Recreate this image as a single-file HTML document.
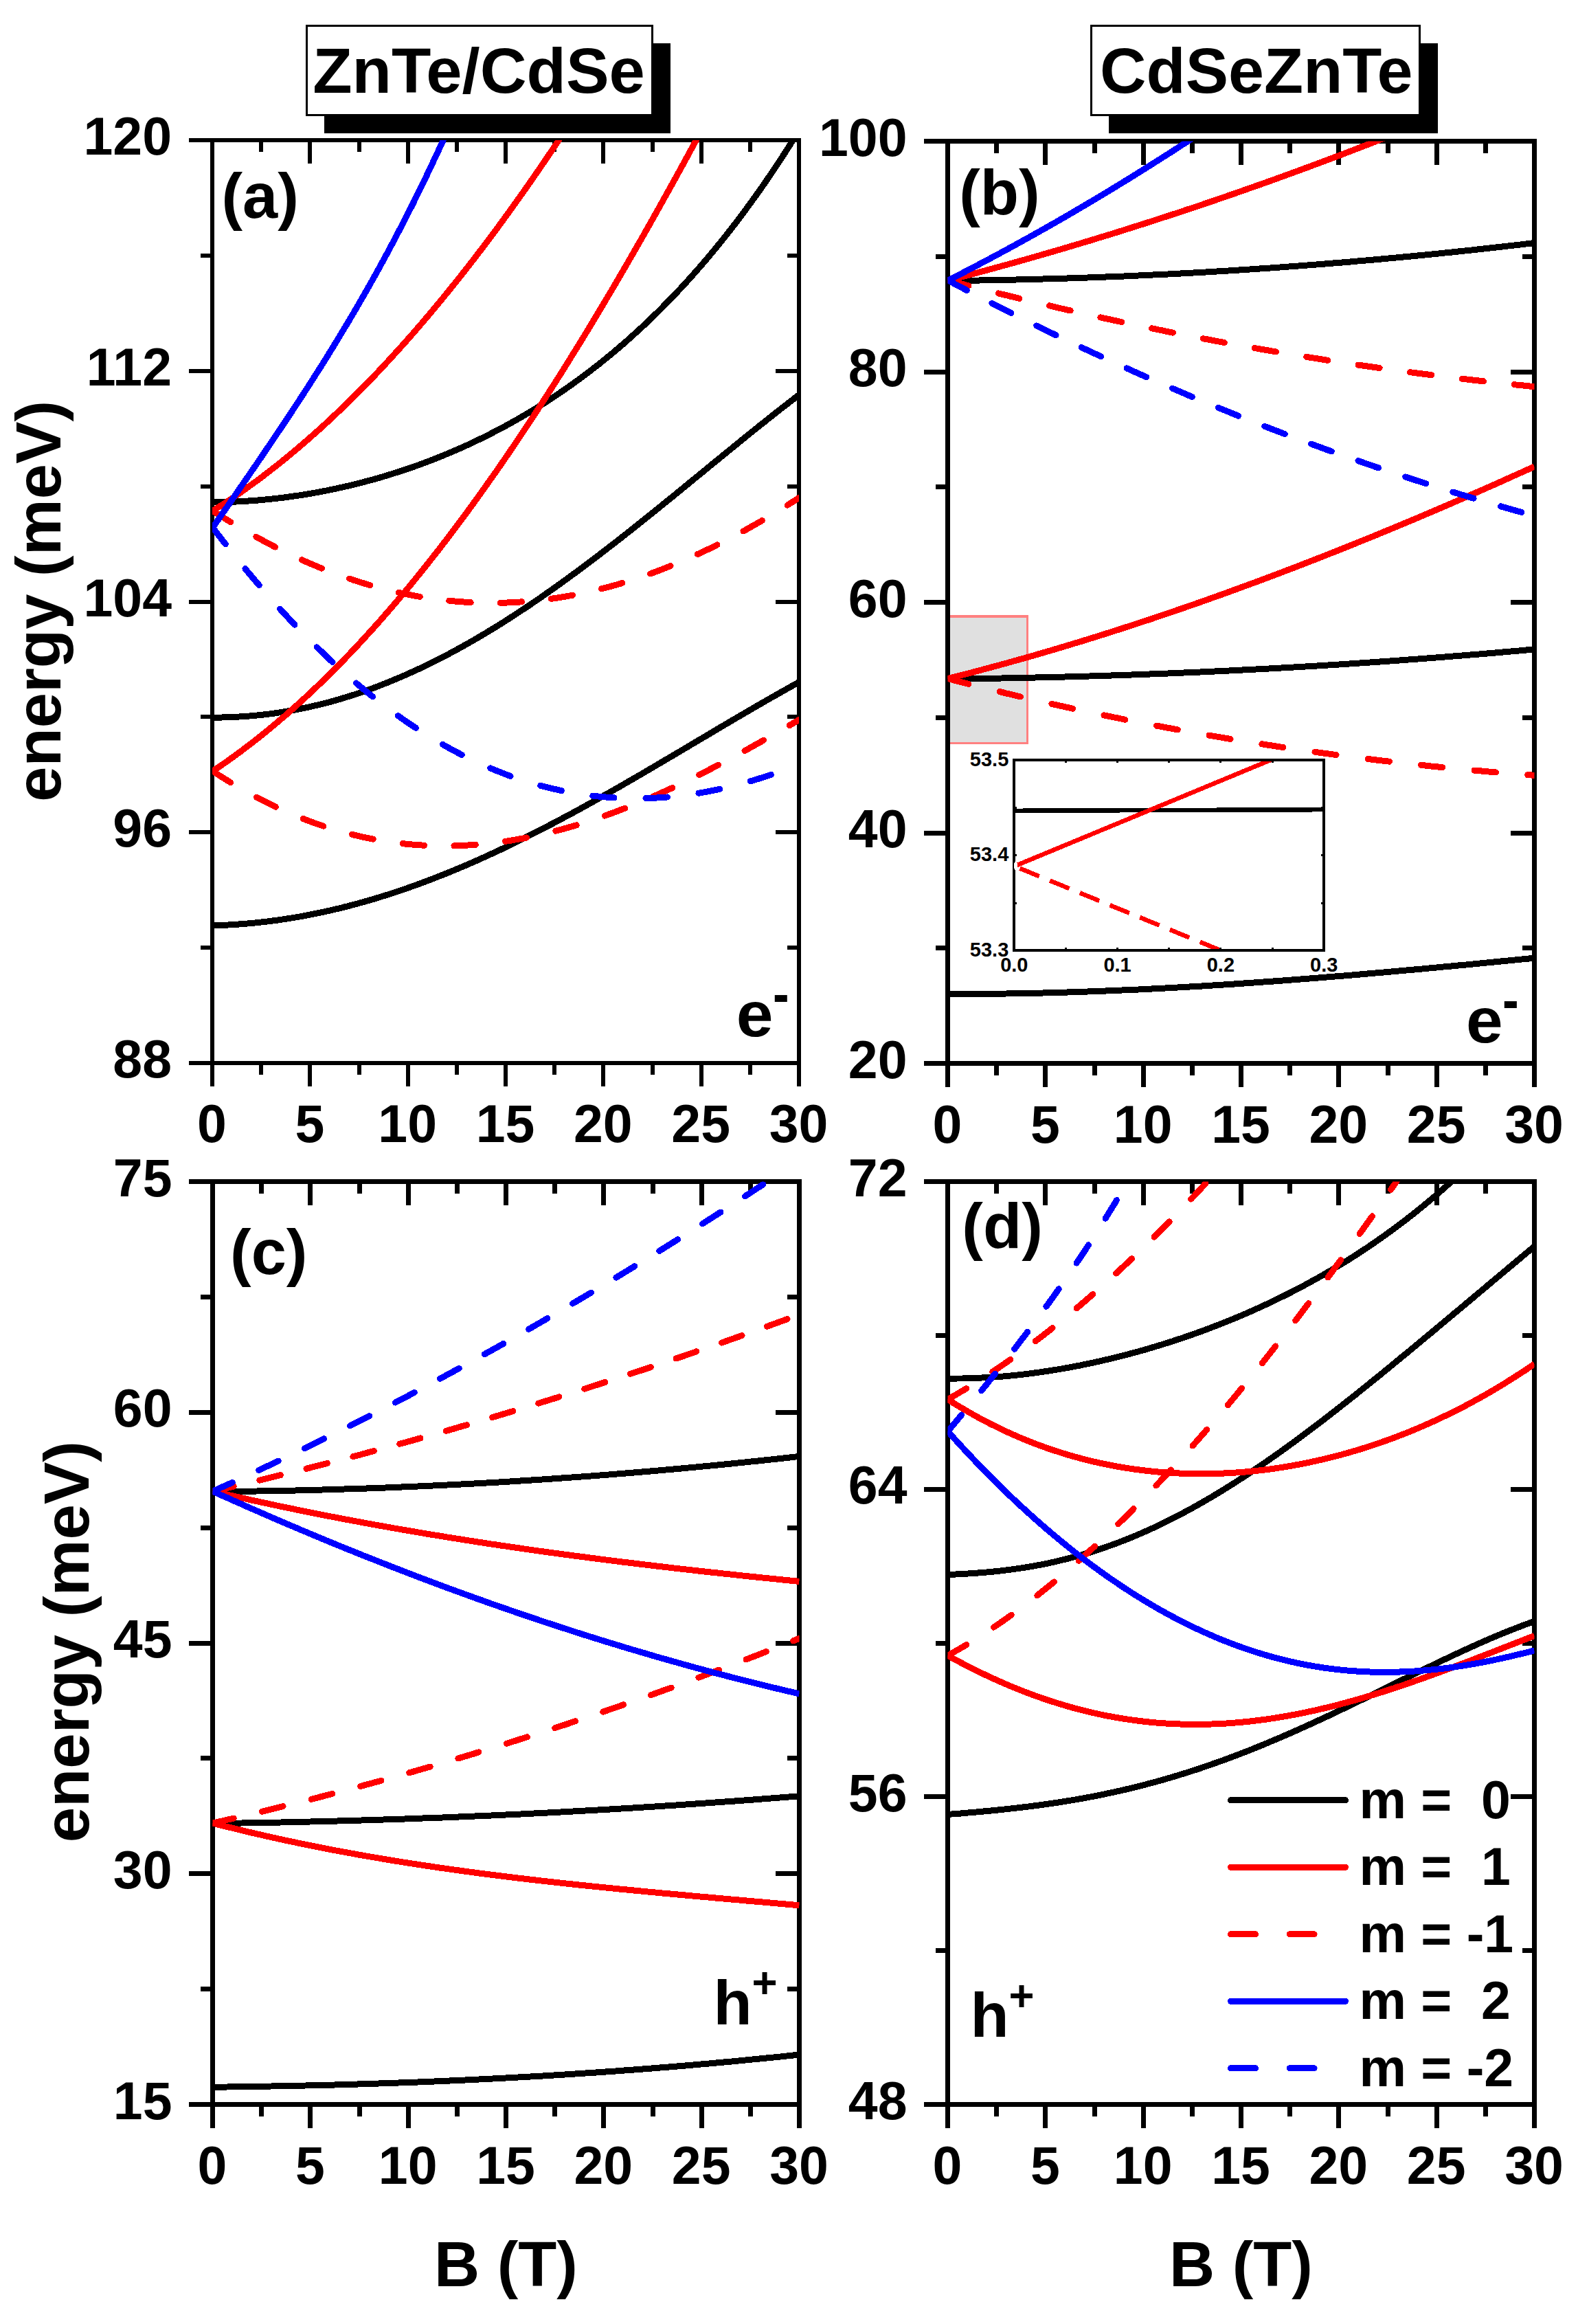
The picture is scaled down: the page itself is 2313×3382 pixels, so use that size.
<!DOCTYPE html>
<html lang="en"><head><meta charset="utf-8"><title>Energy levels vs magnetic field</title>
<style>html,body{margin:0;padding:0;background:#fff}svg{display:block}path,rect,ellipse{shape-rendering:crispEdges}text{font-family:"Liberation Sans", Arial, Helvetica, sans-serif;font-weight:bold}</style>
</head><body>
<svg width="2313" height="3382" viewBox="0 0 2313 3382">
<rect width="2313" height="3382" fill="#fff"/>
<rect x="472" y="63" width="504" height="131" fill="#000"/>
<rect x="446.5" y="37.5" width="503" height="130" fill="#fff" stroke="#000" stroke-width="3"/>
<rect x="1614" y="63" width="479" height="131" fill="#000"/>
<rect x="1588.5" y="37.5" width="478" height="130" fill="#fff" stroke="#000" stroke-width="3"/>
<g id="panel-a">
<clipPath id="clip-a"><rect x="309" y="204" width="854" height="1343"/></clipPath>
<path d="M309,204 v34 M309,1547 v34 M380.2,204 v17 M380.2,1547 v17 M451.3,204 v34 M451.3,1547 v34 M522.5,204 v17 M522.5,1547 v17 M593.7,204 v34 M593.7,1547 v34 M664.8,204 v17 M664.8,1547 v17 M736,204 v34 M736,1547 v34 M807.2,204 v17 M807.2,1547 v17 M878.3,204 v34 M878.3,1547 v34 M949.5,204 v17 M949.5,1547 v17 M1020.7,204 v34 M1020.7,1547 v34 M1091.8,204 v17 M1091.8,1547 v17 M1163,204 v34 M1163,1547 v34 M309,1547 h-34 M1163,1547 h-34 M309,1379.1 h-17 M1163,1379.1 h-17 M309,1211.2 h-34 M1163,1211.2 h-34 M309,1043.4 h-17 M1163,1043.4 h-17 M309,875.5 h-34 M1163,875.5 h-34 M309,707.6 h-17 M1163,707.6 h-17 M309,539.8 h-34 M1163,539.8 h-34 M309,371.9 h-17 M1163,371.9 h-17 M309,204 h-34 M1163,204 h-34" stroke="#000" stroke-width="6" fill="none"/>
<rect x="309" y="204" width="854" height="1343" fill="none" stroke="#000" stroke-width="6"/>
<g clip-path="url(#clip-a)" fill="none" stroke-width="9" stroke-linejoin="round">
<path id="a_black1" d="M309,730.8 L316.1,730.8 L323.2,730.7 L330.4,730.5 L337.5,730.3 L344.6,730 L351.7,729.6 L358.8,729.2 L365.9,728.7 L373.1,728.2 L380.2,727.6 L387.3,726.9 L394.4,726.2 L401.5,725.4 L408.6,724.6 L415.8,723.7 L422.9,722.7 L430,721.7 L437.1,720.7 L444.2,719.5 L451.3,718.4 L458.4,717.1 L465.6,715.8 L472.7,714.5 L479.8,713 L486.9,711.6 L494,710 L501.1,708.4 L508.3,706.8 L515.4,705.1 L522.5,703.3 L529.6,701.4 L536.7,699.5 L543.9,697.6 L551,695.6 L558.1,693.5 L565.2,691.3 L572.3,689.1 L579.4,686.9 L586.5,684.5 L593.7,682.1 L600.8,679.7 L607.9,677.2 L615,674.6 L622.1,671.9 L629.2,669.2 L636.4,666.4 L643.5,663.5 L650.6,660.6 L657.7,657.6 L664.8,654.5 L672,651.4 L679.1,648.2 L686.2,644.9 L693.3,641.5 L700.4,638.1 L707.5,634.6 L714.6,631 L721.8,627.3 L728.9,623.6 L736,619.8 L743.1,615.9 L750.2,611.9 L757.3,607.8 L764.5,603.6 L771.6,599.4 L778.7,595.1 L785.8,590.7 L792.9,586.2 L800,581.6 L807.2,576.9 L814.3,572.1 L821.4,567.2 L828.5,562.3 L835.6,557.2 L842.8,552 L849.9,546.8 L857,541.4 L864.1,535.9 L871.2,530.4 L878.3,524.7 L885.4,518.9 L892.6,513 L899.7,507 L906.8,500.9 L913.9,494.7 L921,488.3 L928.1,481.9 L935.3,475.3 L942.4,468.6 L949.5,461.8 L956.6,454.8 L963.7,447.7 L970.8,440.5 L978,433.2 L985.1,425.7 L992.2,418.1 L999.3,410.4 L1006.4,402.5 L1013.5,394.5 L1020.7,386.3 L1027.8,378 L1034.9,369.6 L1042,361 L1049.1,352.3 L1056.2,343.4 L1063.4,334.3 L1070.5,325.1 L1077.6,315.7 L1084.7,306.2 L1091.8,296.5 L1098.9,286.6 L1106.1,276.6 L1113.2,266.4 L1120.3,256 L1127.4,245.5 L1134.5,234.7 L1141.7,223.8 L1148.8,212.7 L1155.9,201.5 L1163,190" stroke="#000000"/>
<path id="a_black2" d="M309,1044 L316.1,1044 L323.2,1044 L330.4,1043.8 L337.5,1043.6 L344.6,1043.2 L351.7,1042.8 L358.8,1042.3 L365.9,1041.8 L373.1,1041.1 L380.2,1040.4 L387.3,1039.6 L394.4,1038.7 L401.5,1037.7 L408.6,1036.6 L415.8,1035.5 L422.9,1034.3 L430,1033 L437.1,1031.6 L444.2,1030.1 L451.3,1028.6 L458.4,1026.9 L465.6,1025.2 L472.7,1023.4 L479.8,1021.6 L486.9,1019.6 L494,1017.6 L501.1,1015.4 L508.3,1013.2 L515.4,1011 L522.5,1008.6 L529.6,1006.2 L536.7,1003.7 L543.9,1001.1 L551,998.4 L558.1,995.6 L565.2,992.8 L572.3,989.9 L579.4,986.9 L586.5,983.9 L593.7,980.7 L600.8,977.5 L607.9,974.3 L615,970.9 L622.1,967.5 L629.2,964 L636.4,960.4 L643.5,956.8 L650.6,953.1 L657.7,949.3 L664.8,945.4 L672,941.5 L679.1,937.5 L686.2,933.5 L693.3,929.4 L700.4,925.2 L707.5,921 L714.6,916.6 L721.8,912.3 L728.9,907.9 L736,903.4 L743.1,898.8 L750.2,894.2 L757.3,889.5 L764.5,884.8 L771.6,880.1 L778.7,875.2 L785.8,870.4 L792.9,865.4 L800,860.4 L807.2,855.4 L814.3,850.3 L821.4,845.2 L828.5,840.1 L835.6,834.8 L842.8,829.6 L849.9,824.3 L857,819 L864.1,813.6 L871.2,808.2 L878.3,802.7 L885.4,797.2 L892.6,791.7 L899.7,786.2 L906.8,780.6 L913.9,775 L921,769.4 L928.1,763.7 L935.3,758 L942.4,752.3 L949.5,746.6 L956.6,740.9 L963.7,735.1 L970.8,729.4 L978,723.6 L985.1,717.8 L992.2,712 L999.3,706.2 L1006.4,700.3 L1013.5,694.5 L1020.7,688.7 L1027.8,682.9 L1034.9,677 L1042,671.2 L1049.1,665.4 L1056.2,659.6 L1063.4,653.8 L1070.5,648 L1077.6,642.2 L1084.7,636.4 L1091.8,630.7 L1098.9,625 L1106.1,619.2 L1113.2,613.6 L1120.3,607.9 L1127.4,602.3 L1134.5,596.7 L1141.7,591.1 L1148.8,585.6 L1155.9,580.1 L1163,574.6" stroke="#000000"/>
<path id="a_black3" d="M309,1347 L316.1,1346.8 L323.2,1346.5 L330.4,1346.1 L337.5,1345.7 L344.6,1345.2 L351.7,1344.7 L358.8,1344.1 L365.9,1343.5 L373.1,1342.8 L380.2,1342 L387.3,1341.2 L394.4,1340.3 L401.5,1339.4 L408.6,1338.4 L415.8,1337.3 L422.9,1336.2 L430,1335 L437.1,1333.8 L444.2,1332.5 L451.3,1331.1 L458.4,1329.7 L465.6,1328.2 L472.7,1326.7 L479.8,1325.1 L486.9,1323.5 L494,1321.8 L501.1,1320 L508.3,1318.2 L515.4,1316.3 L522.5,1314.4 L529.6,1312.4 L536.7,1310.4 L543.9,1308.3 L551,1306.1 L558.1,1303.9 L565.2,1301.7 L572.3,1299.4 L579.4,1297 L586.5,1294.6 L593.7,1292.2 L600.8,1289.6 L607.9,1287.1 L615,1284.5 L622.1,1281.8 L629.2,1279.1 L636.4,1276.3 L643.5,1273.5 L650.6,1270.7 L657.7,1267.8 L664.8,1264.8 L672,1261.8 L679.1,1258.8 L686.2,1255.7 L693.3,1252.6 L700.4,1249.4 L707.5,1246.2 L714.6,1242.9 L721.8,1239.6 L728.9,1236.3 L736,1232.9 L743.1,1229.5 L750.2,1226 L757.3,1222.5 L764.5,1219 L771.6,1215.4 L778.7,1211.8 L785.8,1208.2 L792.9,1204.5 L800,1200.8 L807.2,1197.1 L814.3,1193.3 L821.4,1189.5 L828.5,1185.7 L835.6,1181.9 L842.8,1178 L849.9,1174.1 L857,1170.1 L864.1,1166.2 L871.2,1162.2 L878.3,1158.2 L885.4,1154.2 L892.6,1150.1 L899.7,1146.1 L906.8,1142 L913.9,1137.9 L921,1133.8 L928.1,1129.7 L935.3,1125.5 L942.4,1121.3 L949.5,1117.2 L956.6,1113 L963.7,1108.8 L970.8,1104.6 L978,1100.4 L985.1,1096.2 L992.2,1092 L999.3,1087.8 L1006.4,1083.5 L1013.5,1079.3 L1020.7,1075.1 L1027.8,1070.9 L1034.9,1066.7 L1042,1062.4 L1049.1,1058.2 L1056.2,1054 L1063.4,1049.8 L1070.5,1045.6 L1077.6,1041.5 L1084.7,1037.3 L1091.8,1033.2 L1098.9,1029 L1106.1,1024.9 L1113.2,1020.8 L1120.3,1016.7 L1127.4,1012.7 L1134.5,1008.6 L1141.7,1004.6 L1148.8,1000.6 L1155.9,996.6 L1163,992.7" stroke="#000000"/>
<path id="a_red1_solid" d="M309,743.8 L316.1,739.3 L323.2,734.8 L330.4,730.1 L337.5,725.4 L344.6,720.5 L351.7,715.6 L358.8,710.5 L365.9,705.4 L373.1,700.2 L380.2,694.9 L387.3,689.5 L394.4,684 L401.5,678.5 L408.6,672.8 L415.8,667 L422.9,661.2 L430,655.2 L437.1,649.2 L444.2,643.1 L451.3,636.9 L458.4,630.5 L465.6,624.2 L472.7,617.7 L479.8,611.1 L486.9,604.4 L494,597.7 L501.1,590.8 L508.3,583.9 L515.4,576.9 L522.5,569.7 L529.6,562.5 L536.7,555.2 L543.9,547.9 L551,540.4 L558.1,532.8 L565.2,525.2 L572.3,517.4 L579.4,509.6 L586.5,501.7 L593.7,493.7 L600.8,485.6 L607.9,477.4 L615,469.2 L622.1,460.8 L629.2,452.4 L636.4,443.8 L643.5,435.2 L650.6,426.5 L657.7,417.7 L664.8,408.9 L672,399.9 L679.1,390.8 L686.2,381.7 L693.3,372.5 L700.4,363.2 L707.5,353.8 L714.6,344.3 L721.8,334.7 L728.9,325.1 L736,315.3 L743.1,305.5 L750.2,295.6 L757.3,285.6 L764.5,275.5 L771.6,265.4 L778.7,255.1 L785.8,244.8 L792.9,234.4 L800,223.9 L807.2,213.3 L814.3,202.6 L821.4,191.9 L828.5,181 L835.6,170.1 L842.8,159.1 L849.9,148 L857,136.8 L864.1,125.6 L871.2,114.3 L878.3,102.8 L885.4,91.3 L892.6,79.7 L899.7,68.1 L906.8,56.3 L913.9,44.5 L921,32.6 L928.1,20.6 L935.3,8.5 L942.4,-3.7 L949.5,-15.9 L956.6,-28.2 L963.7,-40.6 L970.8,-53.1 L978,-65.7 L985.1,-78.4 L992.2,-91.1 L999.3,-103.9 L1006.4,-116.8 L1013.5,-129.8 L1020.7,-142.8 L1027.8,-155.9 L1034.9,-169.2 L1042,-182.5 L1049.1,-195.8" stroke="#ff0000"/>
<path id="a_red2_solid" d="M309,1122.6 L316.1,1117.8 L323.2,1113 L330.4,1108 L337.5,1102.9 L344.6,1097.8 L351.7,1092.5 L358.8,1087.1 L365.9,1081.7 L373.1,1076.1 L380.2,1070.5 L387.3,1064.7 L394.4,1058.9 L401.5,1052.9 L408.6,1046.9 L415.8,1040.8 L422.9,1034.5 L430,1028.2 L437.1,1021.8 L444.2,1015.3 L451.3,1008.6 L458.4,1001.9 L465.6,995.1 L472.7,988.2 L479.8,981.2 L486.9,974.1 L494,966.9 L501.1,959.6 L508.3,952.2 L515.4,944.7 L522.5,937.1 L529.6,929.4 L536.7,921.6 L543.9,913.7 L551,905.8 L558.1,897.7 L565.2,889.5 L572.3,881.3 L579.4,872.9 L586.5,864.5 L593.7,856 L600.8,847.3 L607.9,838.6 L615,829.8 L622.1,820.9 L629.2,811.9 L636.4,802.8 L643.5,793.6 L650.6,784.3 L657.7,775 L664.8,765.5 L672,756 L679.1,746.3 L686.2,736.6 L693.3,726.8 L700.4,716.9 L707.5,706.9 L714.6,696.8 L721.8,686.7 L728.9,676.4 L736,666.1 L743.1,655.7 L750.2,645.2 L757.3,634.6 L764.5,623.9 L771.6,613.2 L778.7,602.3 L785.8,591.4 L792.9,580.4 L800,569.4 L807.2,558.2 L814.3,547 L821.4,535.7 L828.5,524.3 L835.6,512.8 L842.8,501.3 L849.9,489.7 L857,478 L864.1,466.2 L871.2,454.4 L878.3,442.5 L885.4,430.5 L892.6,418.5 L899.7,406.4 L906.8,394.2 L913.9,381.9 L921,369.6 L928.1,357.2 L935.3,344.8 L942.4,332.2 L949.5,319.7 L956.6,307 L963.7,294.3 L970.8,281.5 L978,268.7 L985.1,255.8 L992.2,242.9 L999.3,229.9 L1006.4,216.8 L1013.5,203.7 L1020.7,190.5 L1027.8,177.3 L1034.9,164.1 L1042,150.7 L1049.1,137.4 L1056.2,123.9 L1063.4,110.5 L1070.5,97 L1077.6,83.4 L1084.7,69.8 L1091.8,56.2 L1098.9,42.5 L1106.1,28.7 L1113.2,15 L1120.3,1.2 L1127.4,-12.7 L1134.5,-26.6 L1141.7,-40.5 L1148.8,-54.4 L1155.9,-68.4 L1163,-82.4" stroke="#ff0000"/>
<path id="a_red1_dash" d="M309,742.9 L316.1,747.5 L323.2,752 L330.4,756.4 L337.5,760.8 L344.6,765 L351.7,769.2 L358.8,773.4 L365.9,777.4 L373.1,781.4 L380.2,785.3 L387.3,789.1 L394.4,792.9 L401.5,796.5 L408.6,800.1 L415.8,803.6 L422.9,807.1 L430,810.4 L437.1,813.7 L444.2,816.9 L451.3,820 L458.4,823 L465.6,826 L472.7,828.9 L479.8,831.6 L486.9,834.4 L494,837 L501.1,839.5 L508.3,842 L515.4,844.4 L522.5,846.7 L529.6,848.9 L536.7,851 L543.9,853.1 L551,855.1 L558.1,856.9 L565.2,858.7 L572.3,860.5 L579.4,862.1 L586.5,863.7 L593.7,865.1 L600.8,866.5 L607.9,867.8 L615,869.1 L622.1,870.2 L629.2,871.2 L636.4,872.2 L643.5,873.1 L650.6,873.9 L657.7,874.6 L664.8,875.3 L672,875.8 L679.1,876.3 L686.2,876.7 L693.3,877 L700.4,877.2 L707.5,877.4 L714.6,877.4 L721.8,877.4 L728.9,877.3 L736,877.1 L743.1,876.8 L750.2,876.4 L757.3,876 L764.5,875.5 L771.6,874.9 L778.7,874.2 L785.8,873.4 L792.9,872.6 L800,871.7 L807.2,870.6 L814.3,869.6 L821.4,868.4 L828.5,867.1 L835.6,865.8 L842.8,864.4 L849.9,862.9 L857,861.3 L864.1,859.7 L871.2,857.9 L878.3,856.1 L885.4,854.3 L892.6,852.3 L899.7,850.3 L906.8,848.1 L913.9,845.9 L921,843.7 L928.1,841.3 L935.3,838.9 L942.4,836.4 L949.5,833.9 L956.6,831.2 L963.7,828.5 L970.8,825.7 L978,822.8 L985.1,819.9 L992.2,816.9 L999.3,813.8 L1006.4,810.7 L1013.5,807.4 L1020.7,804.1 L1027.8,800.8 L1034.9,797.4 L1042,793.9 L1049.1,790.3 L1056.2,786.7 L1063.4,783 L1070.5,779.2 L1077.6,775.4 L1084.7,771.5 L1091.8,767.5 L1098.9,763.5 L1106.1,759.4 L1113.2,755.2 L1120.3,751 L1127.4,746.7 L1134.5,742.4 L1141.7,738 L1148.8,733.5 L1155.9,729 L1163,724.5" stroke="#ff0000" stroke-dasharray="31.5 43" stroke-linecap="round" stroke-dashoffset="0"/>
<path id="a_red2_dash" d="M309,1121.7 L316.1,1126.4 L323.2,1131 L330.4,1135.4 L337.5,1139.8 L344.6,1144 L351.7,1148.2 L358.8,1152.2 L365.9,1156.1 L373.1,1160 L380.2,1163.7 L387.3,1167.3 L394.4,1170.9 L401.5,1174.3 L408.6,1177.6 L415.8,1180.8 L422.9,1183.9 L430,1186.9 L437.1,1189.8 L444.2,1192.6 L451.3,1195.3 L458.4,1197.9 L465.6,1200.4 L472.7,1202.8 L479.8,1205.1 L486.9,1207.3 L494,1209.4 L501.1,1211.4 L508.3,1213.3 L515.4,1215.1 L522.5,1216.8 L529.6,1218.4 L536.7,1219.9 L543.9,1221.3 L551,1222.6 L558.1,1223.8 L565.2,1224.9 L572.3,1225.9 L579.4,1226.9 L586.5,1227.7 L593.7,1228.4 L600.8,1229.1 L607.9,1229.6 L615,1230.1 L622.1,1230.5 L629.2,1230.7 L636.4,1230.9 L643.5,1231 L650.6,1231 L657.7,1230.9 L664.8,1230.7 L672,1230.5 L679.1,1230.1 L686.2,1229.7 L693.3,1229.2 L700.4,1228.6 L707.5,1227.9 L714.6,1227.1 L721.8,1226.2 L728.9,1225.3 L736,1224.3 L743.1,1223.2 L750.2,1222 L757.3,1220.7 L764.5,1219.4 L771.6,1218 L778.7,1216.5 L785.8,1214.9 L792.9,1213.3 L800,1211.5 L807.2,1209.7 L814.3,1207.9 L821.4,1205.9 L828.5,1203.9 L835.6,1201.8 L842.8,1199.7 L849.9,1197.4 L857,1195.2 L864.1,1192.8 L871.2,1190.4 L878.3,1187.9 L885.4,1185.3 L892.6,1182.7 L899.7,1180 L906.8,1177.3 L913.9,1174.5 L921,1171.7 L928.1,1168.7 L935.3,1165.8 L942.4,1162.7 L949.5,1159.7 L956.6,1156.5 L963.7,1153.3 L970.8,1150.1 L978,1146.8 L985.1,1143.5 L992.2,1140.1 L999.3,1136.7 L1006.4,1133.2 L1013.5,1129.7 L1020.7,1126.1 L1027.8,1122.5 L1034.9,1118.8 L1042,1115.1 L1049.1,1111.4 L1056.2,1107.6 L1063.4,1103.8 L1070.5,1100 L1077.6,1096.1 L1084.7,1092.2 L1091.8,1088.3 L1098.9,1084.3 L1106.1,1080.3 L1113.2,1076.3 L1120.3,1072.3 L1127.4,1068.2 L1134.5,1064.1 L1141.7,1060 L1148.8,1055.9 L1155.9,1051.7 L1163,1047.5" stroke="#ff0000" stroke-dasharray="31.5 43.4" stroke-linecap="round" stroke-dashoffset="0"/>
<path id="a_blue_solid" d="M309,768.8 L316.1,758.5 L323.2,748.2 L330.4,737.9 L337.5,727.6 L344.6,717.2 L351.7,706.9 L358.8,696.6 L365.9,686.2 L373.1,675.8 L380.2,665.4 L387.3,654.9 L394.4,644.4 L401.5,633.9 L408.6,623.3 L415.8,612.6 L422.9,601.9 L430,591.1 L437.1,580.2 L444.2,569.3 L451.3,558.3 L458.4,547.1 L465.6,535.9 L472.7,524.6 L479.8,513.1 L486.9,501.6 L494,489.9 L501.1,478.1 L508.3,466.2 L515.4,454.1 L522.5,441.9 L529.6,429.6 L536.7,417.1 L543.9,404.4 L551,391.6 L558.1,378.6 L565.2,365.5 L572.3,352.1 L579.4,338.6 L586.5,324.9 L593.7,311 L600.8,296.9 L607.9,282.6 L615,268.1 L622.1,253.3 L629.2,238.3 L636.4,223.1 L643.5,207.7 L650.6,192 L657.7,176.1 L664.8,160 L672,143.6 L679.1,126.9 L686.2,109.9 L693.3,92.7 L700.4,75.2 L707.5,57.4 L714.6,39.4 L721.8,21 L728.9,2.4 L736,-16.6 L743.1,-35.9 L750.2,-55.5 L757.3,-75.4 L764.5,-95.6 L771.6,-116.2 L778.7,-137.1 L785.8,-158.3 L792.9,-179.9" stroke="#0000ff"/>
<path id="a_blue_dash" d="M309,766.8 L316.1,776.2 L323.2,785.4 L330.4,794.5 L337.5,803.5 L344.6,812.4 L351.7,821.2 L358.8,829.9 L365.9,838.4 L373.1,846.8 L380.2,855.2 L387.3,863.4 L394.4,871.5 L401.5,879.4 L408.6,887.3 L415.8,895 L422.9,902.7 L430,910.2 L437.1,917.6 L444.2,924.9 L451.3,932 L458.4,939.1 L465.6,946 L472.7,952.8 L479.8,959.6 L486.9,966.2 L494,972.6 L501.1,979 L508.3,985.3 L515.4,991.4 L522.5,997.4 L529.6,1003.4 L536.7,1009.2 L543.9,1014.9 L551,1020.4 L558.1,1025.9 L565.2,1031.3 L572.3,1036.5 L579.4,1041.6 L586.5,1046.7 L593.7,1051.6 L600.8,1056.4 L607.9,1061.1 L615,1065.6 L622.1,1070.1 L629.2,1074.5 L636.4,1078.7 L643.5,1082.8 L650.6,1086.9 L657.7,1090.8 L664.8,1094.6 L672,1098.3 L679.1,1101.9 L686.2,1105.4 L693.3,1108.7 L700.4,1112 L707.5,1115.2 L714.6,1118.2 L721.8,1121.2 L728.9,1124 L736,1126.8 L743.1,1129.4 L750.2,1131.9 L757.3,1134.3 L764.5,1136.6 L771.6,1138.9 L778.7,1141 L785.8,1143 L792.9,1144.9 L800,1146.7 L807.2,1148.3 L814.3,1149.9 L821.4,1151.4 L828.5,1152.8 L835.6,1154.1 L842.8,1155.3 L849.9,1156.4 L857,1157.4 L864.1,1158.3 L871.2,1159 L878.3,1159.7 L885.4,1160.3 L892.6,1160.8 L899.7,1161.2 L906.8,1161.5 L913.9,1161.7 L921,1161.8 L928.1,1161.9 L935.3,1161.8 L942.4,1161.6 L949.5,1161.3 L956.6,1161 L963.7,1160.5 L970.8,1160 L978,1159.3 L985.1,1158.6 L992.2,1157.8 L999.3,1156.9 L1006.4,1155.9 L1013.5,1154.8 L1020.7,1153.6 L1027.8,1152.3 L1034.9,1151 L1042,1149.5 L1049.1,1148 L1056.2,1146.4 L1063.4,1144.7 L1070.5,1142.9 L1077.6,1141 L1084.7,1139.1 L1091.8,1137 L1098.9,1134.9 L1106.1,1132.7 L1113.2,1130.5 L1120.3,1128.1 L1127.4,1125.7 L1134.5,1123.1 L1141.7,1120.5 L1148.8,1117.9 L1155.9,1115.1 L1163,1112.3" stroke="#0000ff" stroke-dasharray="31.5 45.9" stroke-linecap="round" stroke-dashoffset="0"/>
</g>
<g font-size="77" font-weight="bold" fill="#000">
<text x="308.5" y="1662.3" text-anchor="middle">0</text>
<text x="450.8" y="1662.3" text-anchor="middle">5</text>
<text x="593.2" y="1662.3" text-anchor="middle">10</text>
<text x="735.5" y="1662.3" text-anchor="middle">15</text>
<text x="877.8" y="1662.3" text-anchor="middle">20</text>
<text x="1020.2" y="1662.3" text-anchor="middle">25</text>
<text x="1162.5" y="1662.3" text-anchor="middle">30</text>
<text x="250" y="1568" text-anchor="end">88</text>
<text x="250" y="1232.2" text-anchor="end">96</text>
<text x="250" y="896.5" text-anchor="end">104</text>
<text x="250" y="560.8" text-anchor="end">112</text>
<text x="250" y="225" text-anchor="end">120</text>
</g>
</g>
<g id="panel-b">
<clipPath id="clip-b"><rect x="1379.5" y="205.5" width="854" height="1342"/></clipPath>
<rect x="1379.7" y="897" width="115.5" height="184.2" fill="#e0e0e0" stroke="#ff8080" stroke-width="3.3"/>
<path d="M1379.5,205.5 v34.5 M1379.5,1547.5 v34.5 M1450.7,205.5 v17.5 M1450.7,1547.5 v17.5 M1521.8,205.5 v34.5 M1521.8,1547.5 v34.5 M1593,205.5 v17.5 M1593,1547.5 v17.5 M1664.2,205.5 v34.5 M1664.2,1547.5 v34.5 M1735.3,205.5 v17.5 M1735.3,1547.5 v17.5 M1806.5,205.5 v34.5 M1806.5,1547.5 v34.5 M1877.7,205.5 v17.5 M1877.7,1547.5 v17.5 M1948.8,205.5 v34.5 M1948.8,1547.5 v34.5 M2020,205.5 v17.5 M2020,1547.5 v17.5 M2091.2,205.5 v34.5 M2091.2,1547.5 v34.5 M2162.3,205.5 v17.5 M2162.3,1547.5 v17.5 M2233.5,205.5 v34.5 M2233.5,1547.5 v34.5 M1379.5,1547.5 h-34.5 M2233.5,1547.5 h-34.5 M1379.5,1379.8 h-17.5 M2233.5,1379.8 h-17.5 M1379.5,1212 h-34.5 M2233.5,1212 h-34.5 M1379.5,1044.2 h-17.5 M2233.5,1044.2 h-17.5 M1379.5,876.5 h-34.5 M2233.5,876.5 h-34.5 M1379.5,708.8 h-17.5 M2233.5,708.8 h-17.5 M1379.5,541 h-34.5 M2233.5,541 h-34.5 M1379.5,373.2 h-17.5 M2233.5,373.2 h-17.5 M1379.5,205.5 h-34.5 M2233.5,205.5 h-34.5" stroke="#000" stroke-width="7" fill="none"/>
<rect x="1379.5" y="205.5" width="854" height="1342" fill="none" stroke="#000" stroke-width="7"/>
<g clip-path="url(#clip-b)" fill="none" stroke-width="9" stroke-linejoin="round">
<path id="b_black1" d="M1379.5,408.6 L1386.6,408.5 L1393.7,408.4 L1400.8,408.3 L1408,408.3 L1415.1,408.2 L1422.2,408.1 L1429.3,407.9 L1436.4,407.8 L1443.5,407.7 L1450.7,407.6 L1457.8,407.4 L1464.9,407.3 L1472,407.2 L1479.1,407 L1486.2,406.8 L1493.4,406.7 L1500.5,406.5 L1507.6,406.3 L1514.7,406.1 L1521.8,405.9 L1529,405.7 L1536.1,405.5 L1543.2,405.3 L1550.3,405.1 L1557.4,404.9 L1564.5,404.6 L1571.7,404.4 L1578.8,404.2 L1585.9,403.9 L1593,403.6 L1600.1,403.4 L1607.2,403.1 L1614.3,402.8 L1621.5,402.5 L1628.6,402.3 L1635.7,402 L1642.8,401.7 L1649.9,401.3 L1657,401 L1664.2,400.7 L1671.3,400.4 L1678.4,400 L1685.5,399.7 L1692.6,399.3 L1699.8,399 L1706.9,398.6 L1714,398.2 L1721.1,397.9 L1728.2,397.5 L1735.3,397.1 L1742.5,396.7 L1749.6,396.3 L1756.7,395.9 L1763.8,395.5 L1770.9,395 L1778,394.6 L1785.2,394.2 L1792.3,393.7 L1799.4,393.3 L1806.5,392.8 L1813.6,392.4 L1820.7,391.9 L1827.8,391.4 L1835,390.9 L1842.1,390.5 L1849.2,390 L1856.3,389.5 L1863.4,389 L1870.5,388.4 L1877.7,387.9 L1884.8,387.4 L1891.9,386.9 L1899,386.3 L1906.1,385.8 L1913.2,385.2 L1920.4,384.7 L1927.5,384.1 L1934.6,383.5 L1941.7,382.9 L1948.8,382.4 L1955.9,381.8 L1963.1,381.2 L1970.2,380.6 L1977.3,379.9 L1984.4,379.3 L1991.5,378.7 L1998.7,378.1 L2005.8,377.4 L2012.9,376.8 L2020,376.1 L2027.1,375.5 L2034.2,374.8 L2041.3,374.1 L2048.5,373.5 L2055.6,372.8 L2062.7,372.1 L2069.8,371.4 L2076.9,370.7 L2084.1,370 L2091.2,369.3 L2098.3,368.5 L2105.4,367.8 L2112.5,367.1 L2119.6,366.3 L2126.8,365.6 L2133.9,364.8 L2141,364.1 L2148.1,363.3 L2155.2,362.5 L2162.3,361.7 L2169.4,360.9 L2176.6,360.1 L2183.7,359.3 L2190.8,358.5 L2197.9,357.7 L2205,356.9 L2212.2,356.1 L2219.3,355.2 L2226.4,354.4 L2233.5,353.5" stroke="#000000"/>
<path id="b_black2" d="M1379.5,988.1 L1386.6,988.1 L1393.7,988 L1400.8,987.9 L1408,987.8 L1415.1,987.7 L1422.2,987.6 L1429.3,987.5 L1436.4,987.4 L1443.5,987.3 L1450.7,987.2 L1457.8,987 L1464.9,986.9 L1472,986.8 L1479.1,986.6 L1486.2,986.5 L1493.4,986.4 L1500.5,986.2 L1507.6,986 L1514.7,985.9 L1521.8,985.7 L1529,985.5 L1536.1,985.4 L1543.2,985.2 L1550.3,985 L1557.4,984.8 L1564.5,984.6 L1571.7,984.4 L1578.8,984.2 L1585.9,984 L1593,983.8 L1600.1,983.6 L1607.2,983.3 L1614.3,983.1 L1621.5,982.9 L1628.6,982.6 L1635.7,982.4 L1642.8,982.2 L1649.9,981.9 L1657,981.6 L1664.2,981.4 L1671.3,981.1 L1678.4,980.8 L1685.5,980.6 L1692.6,980.3 L1699.8,980 L1706.9,979.7 L1714,979.4 L1721.1,979.1 L1728.2,978.8 L1735.3,978.5 L1742.5,978.2 L1749.6,977.9 L1756.7,977.5 L1763.8,977.2 L1770.9,976.9 L1778,976.5 L1785.2,976.2 L1792.3,975.8 L1799.4,975.5 L1806.5,975.1 L1813.6,974.8 L1820.7,974.4 L1827.8,974 L1835,973.7 L1842.1,973.3 L1849.2,972.9 L1856.3,972.5 L1863.4,972.1 L1870.5,971.7 L1877.7,971.3 L1884.8,970.9 L1891.9,970.5 L1899,970.1 L1906.1,969.6 L1913.2,969.2 L1920.4,968.8 L1927.5,968.3 L1934.6,967.9 L1941.7,967.4 L1948.8,967 L1955.9,966.5 L1963.1,966.1 L1970.2,965.6 L1977.3,965.1 L1984.4,964.6 L1991.5,964.2 L1998.7,963.7 L2005.8,963.2 L2012.9,962.7 L2020,962.2 L2027.1,961.7 L2034.2,961.2 L2041.3,960.7 L2048.5,960.1 L2055.6,959.6 L2062.7,959.1 L2069.8,958.6 L2076.9,958 L2084.1,957.5 L2091.2,956.9 L2098.3,956.4 L2105.4,955.8 L2112.5,955.2 L2119.6,954.7 L2126.8,954.1 L2133.9,953.5 L2141,952.9 L2148.1,952.4 L2155.2,951.8 L2162.3,951.2 L2169.4,950.6 L2176.6,950 L2183.7,949.4 L2190.8,948.7 L2197.9,948.1 L2205,947.5 L2212.2,946.9 L2219.3,946.2 L2226.4,945.6 L2233.5,944.9" stroke="#000000"/>
<path id="b_black3" d="M1379.5,1446.4 L1386.6,1446.5 L1393.7,1446.5 L1400.8,1446.5 L1408,1446.5 L1415.1,1446.4 L1422.2,1446.4 L1429.3,1446.4 L1436.4,1446.3 L1443.5,1446.2 L1450.7,1446.2 L1457.8,1446.1 L1464.9,1446 L1472,1445.9 L1479.1,1445.8 L1486.2,1445.6 L1493.4,1445.5 L1500.5,1445.4 L1507.6,1445.2 L1514.7,1445.1 L1521.8,1444.9 L1529,1444.7 L1536.1,1444.5 L1543.2,1444.3 L1550.3,1444.1 L1557.4,1443.9 L1564.5,1443.7 L1571.7,1443.4 L1578.8,1443.2 L1585.9,1442.9 L1593,1442.7 L1600.1,1442.4 L1607.2,1442.1 L1614.3,1441.8 L1621.5,1441.6 L1628.6,1441.2 L1635.7,1440.9 L1642.8,1440.6 L1649.9,1440.3 L1657,1440 L1664.2,1439.6 L1671.3,1439.3 L1678.4,1438.9 L1685.5,1438.6 L1692.6,1438.2 L1699.8,1437.8 L1706.9,1437.4 L1714,1437 L1721.1,1436.6 L1728.2,1436.2 L1735.3,1435.8 L1742.5,1435.4 L1749.6,1435 L1756.7,1434.5 L1763.8,1434.1 L1770.9,1433.6 L1778,1433.2 L1785.2,1432.7 L1792.3,1432.3 L1799.4,1431.8 L1806.5,1431.3 L1813.6,1430.8 L1820.7,1430.3 L1827.8,1429.8 L1835,1429.3 L1842.1,1428.8 L1849.2,1428.3 L1856.3,1427.8 L1863.4,1427.3 L1870.5,1426.7 L1877.7,1426.2 L1884.8,1425.6 L1891.9,1425.1 L1899,1424.6 L1906.1,1424 L1913.2,1423.4 L1920.4,1422.9 L1927.5,1422.3 L1934.6,1421.7 L1941.7,1421.1 L1948.8,1420.5 L1955.9,1420 L1963.1,1419.4 L1970.2,1418.8 L1977.3,1418.2 L1984.4,1417.6 L1991.5,1416.9 L1998.7,1416.3 L2005.8,1415.7 L2012.9,1415.1 L2020,1414.5 L2027.1,1413.8 L2034.2,1413.2 L2041.3,1412.5 L2048.5,1411.9 L2055.6,1411.3 L2062.7,1410.6 L2069.8,1410 L2076.9,1409.3 L2084.1,1408.6 L2091.2,1408 L2098.3,1407.3 L2105.4,1406.6 L2112.5,1406 L2119.6,1405.3 L2126.8,1404.6 L2133.9,1404 L2141,1403.3 L2148.1,1402.6 L2155.2,1401.9 L2162.3,1401.2 L2169.4,1400.5 L2176.6,1399.8 L2183.7,1399.1 L2190.8,1398.4 L2197.9,1397.7 L2205,1397 L2212.2,1396.3 L2219.3,1395.6 L2226.4,1394.9 L2233.5,1394.2" stroke="#000000"/>
<path id="b_red1_solid" d="M1379.5,408.3 L1386.6,406.4 L1393.7,404.5 L1400.8,402.7 L1408,400.8 L1415.1,398.9 L1422.2,397 L1429.3,395.1 L1436.4,393.2 L1443.5,391.2 L1450.7,389.3 L1457.8,387.3 L1464.9,385.4 L1472,383.4 L1479.1,381.4 L1486.2,379.4 L1493.4,377.4 L1500.5,375.4 L1507.6,373.3 L1514.7,371.3 L1521.8,369.2 L1529,367.2 L1536.1,365.1 L1543.2,363 L1550.3,360.9 L1557.4,358.8 L1564.5,356.7 L1571.7,354.6 L1578.8,352.4 L1585.9,350.3 L1593,348.1 L1600.1,345.9 L1607.2,343.8 L1614.3,341.6 L1621.5,339.4 L1628.6,337.2 L1635.7,334.9 L1642.8,332.7 L1649.9,330.4 L1657,328.2 L1664.2,325.9 L1671.3,323.6 L1678.4,321.4 L1685.5,319.1 L1692.6,316.7 L1699.8,314.4 L1706.9,312.1 L1714,309.8 L1721.1,307.4 L1728.2,305 L1735.3,302.7 L1742.5,300.3 L1749.6,297.9 L1756.7,295.5 L1763.8,293.1 L1770.9,290.6 L1778,288.2 L1785.2,285.7 L1792.3,283.3 L1799.4,280.8 L1806.5,278.3 L1813.6,275.8 L1820.7,273.3 L1827.8,270.8 L1835,268.3 L1842.1,265.8 L1849.2,263.2 L1856.3,260.7 L1863.4,258.1 L1870.5,255.5 L1877.7,252.9 L1884.8,250.3 L1891.9,247.7 L1899,245.1 L1906.1,242.5 L1913.2,239.8 L1920.4,237.2 L1927.5,234.5 L1934.6,231.8 L1941.7,229.2 L1948.8,226.5 L1955.9,223.8 L1963.1,221 L1970.2,218.3 L1977.3,215.6 L1984.4,212.8 L1991.5,210.1 L1998.7,207.3 L2005.8,204.5 L2012.9,201.7 L2020,198.9 L2027.1,196.1 L2034.2,193.3 L2041.3,190.5 L2048.5,187.6 L2055.6,184.8 L2062.7,181.9 L2069.8,179 L2076.9,176.1 L2084.1,173.2 L2091.2,170.3 L2098.3,167.4 L2105.4,164.5 L2112.5,161.5 L2119.6,158.6 L2126.8,155.6 L2133.9,152.6 L2141,149.7 L2148.1,146.7 L2155.2,143.7 L2162.3,140.6 L2169.4,137.6 L2176.6,134.6 L2183.7,131.5 L2190.8,128.5 L2197.9,125.4 L2205,122.3 L2212.2,119.2 L2219.3,116.1 L2226.4,113 L2233.5,109.9" stroke="#ff0000"/>
<path id="b_red2_solid" d="M1379.5,987.6 L1386.6,985.8 L1393.7,984 L1400.8,982.2 L1408,980.4 L1415.1,978.5 L1422.2,976.6 L1429.3,974.7 L1436.4,972.8 L1443.5,970.9 L1450.7,969 L1457.8,967 L1464.9,965.1 L1472,963.1 L1479.1,961.1 L1486.2,959.1 L1493.4,957.1 L1500.5,955.1 L1507.6,953 L1514.7,951 L1521.8,948.9 L1529,946.8 L1536.1,944.7 L1543.2,942.6 L1550.3,940.4 L1557.4,938.3 L1564.5,936.1 L1571.7,934 L1578.8,931.8 L1585.9,929.6 L1593,927.4 L1600.1,925.2 L1607.2,922.9 L1614.3,920.7 L1621.5,918.4 L1628.6,916.1 L1635.7,913.8 L1642.8,911.5 L1649.9,909.2 L1657,906.9 L1664.2,904.5 L1671.3,902.2 L1678.4,899.8 L1685.5,897.4 L1692.6,895 L1699.8,892.6 L1706.9,890.2 L1714,887.7 L1721.1,885.3 L1728.2,882.8 L1735.3,880.4 L1742.5,877.9 L1749.6,875.4 L1756.7,872.9 L1763.8,870.3 L1770.9,867.8 L1778,865.3 L1785.2,862.7 L1792.3,860.1 L1799.4,857.5 L1806.5,854.9 L1813.6,852.3 L1820.7,849.7 L1827.8,847.1 L1835,844.4 L1842.1,841.8 L1849.2,839.1 L1856.3,836.4 L1863.4,833.8 L1870.5,831 L1877.7,828.3 L1884.8,825.6 L1891.9,822.9 L1899,820.1 L1906.1,817.4 L1913.2,814.6 L1920.4,811.8 L1927.5,809 L1934.6,806.2 L1941.7,803.4 L1948.8,800.6 L1955.9,797.7 L1963.1,794.9 L1970.2,792 L1977.3,789.1 L1984.4,786.3 L1991.5,783.4 L1998.7,780.5 L2005.8,777.6 L2012.9,774.6 L2020,771.7 L2027.1,768.8 L2034.2,765.8 L2041.3,762.8 L2048.5,759.9 L2055.6,756.9 L2062.7,753.9 L2069.8,750.9 L2076.9,747.8 L2084.1,744.8 L2091.2,741.8 L2098.3,738.7 L2105.4,735.7 L2112.5,732.6 L2119.6,729.5 L2126.8,726.4 L2133.9,723.3 L2141,720.2 L2148.1,717.1 L2155.2,714 L2162.3,710.9 L2169.4,707.7 L2176.6,704.6 L2183.7,701.4 L2190.8,698.2 L2197.9,695 L2205,691.8 L2212.2,688.6 L2219.3,685.4 L2226.4,682.2 L2233.5,679" stroke="#ff0000"/>
<path id="b_red1_dash" d="M1379.5,407.8 L1386.6,409.7 L1393.7,411.6 L1400.8,413.4 L1408,415.3 L1415.1,417.1 L1422.2,418.9 L1429.3,420.8 L1436.4,422.6 L1443.5,424.4 L1450.7,426.2 L1457.8,428 L1464.9,429.7 L1472,431.5 L1479.1,433.2 L1486.2,435 L1493.4,436.7 L1500.5,438.4 L1507.6,440.2 L1514.7,441.9 L1521.8,443.5 L1529,445.2 L1536.1,446.9 L1543.2,448.6 L1550.3,450.2 L1557.4,451.8 L1564.5,453.5 L1571.7,455.1 L1578.8,456.7 L1585.9,458.3 L1593,459.9 L1600.1,461.5 L1607.2,463.1 L1614.3,464.6 L1621.5,466.2 L1628.6,467.7 L1635.7,469.2 L1642.8,470.8 L1649.9,472.3 L1657,473.8 L1664.2,475.3 L1671.3,476.7 L1678.4,478.2 L1685.5,479.7 L1692.6,481.1 L1699.8,482.6 L1706.9,484 L1714,485.4 L1721.1,486.8 L1728.2,488.2 L1735.3,489.6 L1742.5,491 L1749.6,492.4 L1756.7,493.7 L1763.8,495.1 L1770.9,496.4 L1778,497.8 L1785.2,499.1 L1792.3,500.4 L1799.4,501.7 L1806.5,503 L1813.6,504.3 L1820.7,505.5 L1827.8,506.8 L1835,508.1 L1842.1,509.3 L1849.2,510.5 L1856.3,511.8 L1863.4,513 L1870.5,514.2 L1877.7,515.4 L1884.8,516.6 L1891.9,517.7 L1899,518.9 L1906.1,520.1 L1913.2,521.2 L1920.4,522.3 L1927.5,523.5 L1934.6,524.6 L1941.7,525.7 L1948.8,526.8 L1955.9,527.9 L1963.1,528.9 L1970.2,530 L1977.3,531.1 L1984.4,532.1 L1991.5,533.2 L1998.7,534.2 L2005.8,535.2 L2012.9,536.2 L2020,537.2 L2027.1,538.2 L2034.2,539.2 L2041.3,540.1 L2048.5,541.1 L2055.6,542.1 L2062.7,543 L2069.8,543.9 L2076.9,544.8 L2084.1,545.8 L2091.2,546.7 L2098.3,547.6 L2105.4,548.4 L2112.5,549.3 L2119.6,550.2 L2126.8,551 L2133.9,551.9 L2141,552.7 L2148.1,553.5 L2155.2,554.3 L2162.3,555.1 L2169.4,555.9 L2176.6,556.7 L2183.7,557.5 L2190.8,558.3 L2197.9,559 L2205,559.8 L2212.2,560.5 L2219.3,561.2 L2226.4,562 L2233.5,562.7" stroke="#ff0000" stroke-dasharray="31.5 44.8" stroke-linecap="round" stroke-dashoffset="0"/>
<path id="b_red2_dash" d="M1379.5,987.5 L1386.6,989.4 L1393.7,991.2 L1400.8,993 L1408,994.9 L1415.1,996.7 L1422.2,998.5 L1429.3,1000.2 L1436.4,1002 L1443.5,1003.8 L1450.7,1005.5 L1457.8,1007.2 L1464.9,1009 L1472,1010.7 L1479.1,1012.4 L1486.2,1014.1 L1493.4,1015.7 L1500.5,1017.4 L1507.6,1019 L1514.7,1020.7 L1521.8,1022.3 L1529,1023.9 L1536.1,1025.5 L1543.2,1027.1 L1550.3,1028.7 L1557.4,1030.3 L1564.5,1031.8 L1571.7,1033.4 L1578.8,1034.9 L1585.9,1036.4 L1593,1037.9 L1600.1,1039.4 L1607.2,1040.9 L1614.3,1042.4 L1621.5,1043.9 L1628.6,1045.3 L1635.7,1046.8 L1642.8,1048.2 L1649.9,1049.6 L1657,1051 L1664.2,1052.4 L1671.3,1053.8 L1678.4,1055.2 L1685.5,1056.5 L1692.6,1057.9 L1699.8,1059.2 L1706.9,1060.5 L1714,1061.9 L1721.1,1063.2 L1728.2,1064.5 L1735.3,1065.7 L1742.5,1067 L1749.6,1068.3 L1756.7,1069.5 L1763.8,1070.8 L1770.9,1072 L1778,1073.2 L1785.2,1074.4 L1792.3,1075.6 L1799.4,1076.8 L1806.5,1077.9 L1813.6,1079.1 L1820.7,1080.3 L1827.8,1081.4 L1835,1082.5 L1842.1,1083.6 L1849.2,1084.7 L1856.3,1085.8 L1863.4,1086.9 L1870.5,1088 L1877.7,1089 L1884.8,1090.1 L1891.9,1091.1 L1899,1092.2 L1906.1,1093.2 L1913.2,1094.2 L1920.4,1095.2 L1927.5,1096.2 L1934.6,1097.1 L1941.7,1098.1 L1948.8,1099 L1955.9,1100 L1963.1,1100.9 L1970.2,1101.8 L1977.3,1102.7 L1984.4,1103.6 L1991.5,1104.5 L1998.7,1105.4 L2005.8,1106.3 L2012.9,1107.1 L2020,1107.9 L2027.1,1108.8 L2034.2,1109.6 L2041.3,1110.4 L2048.5,1111.2 L2055.6,1112 L2062.7,1112.8 L2069.8,1113.5 L2076.9,1114.3 L2084.1,1115.1 L2091.2,1115.8 L2098.3,1116.5 L2105.4,1117.2 L2112.5,1117.9 L2119.6,1118.6 L2126.8,1119.3 L2133.9,1120 L2141,1120.7 L2148.1,1121.3 L2155.2,1121.9 L2162.3,1122.6 L2169.4,1123.2 L2176.6,1123.8 L2183.7,1124.4 L2190.8,1125 L2197.9,1125.6 L2205,1126.1 L2212.2,1126.7 L2219.3,1127.3 L2226.4,1127.8 L2233.5,1128.3" stroke="#ff0000" stroke-dasharray="31.5 46.4" stroke-linecap="round" stroke-dashoffset="0"/>
<path id="b_blue_solid" d="M1379.5,408.3 L1386.6,404.7 L1393.7,401 L1400.8,397.4 L1408,393.7 L1415.1,390 L1422.2,386.3 L1429.3,382.5 L1436.4,378.8 L1443.5,375 L1450.7,371.2 L1457.8,367.3 L1464.9,363.5 L1472,359.6 L1479.1,355.7 L1486.2,351.8 L1493.4,347.8 L1500.5,343.9 L1507.6,339.9 L1514.7,335.9 L1521.8,331.9 L1529,327.8 L1536.1,323.8 L1543.2,319.7 L1550.3,315.6 L1557.4,311.5 L1564.5,307.3 L1571.7,303.1 L1578.8,298.9 L1585.9,294.7 L1593,290.5 L1600.1,286.2 L1607.2,282 L1614.3,277.7 L1621.5,273.3 L1628.6,269 L1635.7,264.6 L1642.8,260.3 L1649.9,255.9 L1657,251.4 L1664.2,247 L1671.3,242.5 L1678.4,238 L1685.5,233.5 L1692.6,229 L1699.8,224.5 L1706.9,219.9 L1714,215.3 L1721.1,210.7 L1728.2,206 L1735.3,201.4 L1742.5,196.7 L1749.6,192 L1756.7,187.3 L1763.8,182.5 L1770.9,177.8 L1778,173 L1785.2,168.2 L1792.3,163.4 L1799.4,158.5 L1806.5,153.7 L1813.6,148.8 L1820.7,143.9 L1827.8,138.9 L1835,134 L1842.1,129 L1849.2,124 L1856.3,119 L1863.4,114 L1870.5,108.9 L1877.7,103.8 L1884.8,98.7 L1891.9,93.6 L1899,88.4 L1906.1,83.3 L1913.2,78.1 L1920.4,72.9 L1927.5,67.7 L1934.6,62.4 L1941.7,57.1 L1948.8,51.9 L1955.9,46.5 L1963.1,41.2 L1970.2,35.9 L1977.3,30.5 L1984.4,25.1 L1991.5,19.7 L1998.7,14.2 L2005.8,8.8 L2012.9,3.3 L2020,-2.2 L2027.1,-7.7 L2034.2,-13.3 L2041.3,-18.8 L2048.5,-24.4 L2055.6,-30 L2062.7,-35.7 L2069.8,-41.3 L2076.9,-47 L2084.1,-52.7 L2091.2,-58.4 L2098.3,-64.1 L2105.4,-69.9 L2112.5,-75.7 L2119.6,-81.5 L2126.8,-87.3 L2133.9,-93.1 L2141,-99 L2148.1,-104.9 L2155.2,-110.8 L2162.3,-116.7 L2169.4,-122.6 L2176.6,-128.6 L2183.7,-134.6 L2190.8,-140.6 L2197.9,-146.6 L2205,-152.7 L2212.2,-158.8 L2219.3,-164.9 L2226.4,-171 L2233.5,-177.1" stroke="#0000ff"/>
<path id="b_blue_dash" d="M1379.5,407.8 L1386.6,411.5 L1393.7,415.3 L1400.8,419.1 L1408,422.8 L1415.1,426.5 L1422.2,430.2 L1429.3,433.9 L1436.4,437.6 L1443.5,441.2 L1450.7,444.9 L1457.8,448.5 L1464.9,452.1 L1472,455.7 L1479.1,459.3 L1486.2,462.8 L1493.4,466.4 L1500.5,469.9 L1507.6,473.4 L1514.7,476.9 L1521.8,480.4 L1529,483.8 L1536.1,487.3 L1543.2,490.7 L1550.3,494.1 L1557.4,497.5 L1564.5,500.9 L1571.7,504.3 L1578.8,507.7 L1585.9,511 L1593,514.3 L1600.1,517.6 L1607.2,520.9 L1614.3,524.2 L1621.5,527.4 L1628.6,530.7 L1635.7,533.9 L1642.8,537.1 L1649.9,540.3 L1657,543.5 L1664.2,546.7 L1671.3,549.8 L1678.4,553 L1685.5,556.1 L1692.6,559.2 L1699.8,562.3 L1706.9,565.3 L1714,568.4 L1721.1,571.4 L1728.2,574.5 L1735.3,577.5 L1742.5,580.5 L1749.6,583.5 L1756.7,586.4 L1763.8,589.4 L1770.9,592.3 L1778,595.2 L1785.2,598.1 L1792.3,601 L1799.4,603.9 L1806.5,606.7 L1813.6,609.6 L1820.7,612.4 L1827.8,615.2 L1835,618 L1842.1,620.8 L1849.2,623.6 L1856.3,626.3 L1863.4,629 L1870.5,631.8 L1877.7,634.5 L1884.8,637.2 L1891.9,639.8 L1899,642.5 L1906.1,645.1 L1913.2,647.8 L1920.4,650.4 L1927.5,653 L1934.6,655.6 L1941.7,658.1 L1948.8,660.7 L1955.9,663.2 L1963.1,665.7 L1970.2,668.2 L1977.3,670.7 L1984.4,673.2 L1991.5,675.7 L1998.7,678.1 L2005.8,680.6 L2012.9,683 L2020,685.4 L2027.1,687.8 L2034.2,690.2 L2041.3,692.5 L2048.5,694.9 L2055.6,697.2 L2062.7,699.5 L2069.8,701.8 L2076.9,704.1 L2084.1,706.4 L2091.2,708.6 L2098.3,710.9 L2105.4,713.1 L2112.5,715.3 L2119.6,717.5 L2126.8,719.7 L2133.9,721.8 L2141,724 L2148.1,726.1 L2155.2,728.3 L2162.3,730.4 L2169.4,732.5 L2176.6,734.5 L2183.7,736.6 L2190.8,738.7 L2197.9,740.7 L2205,742.7 L2212.2,744.7 L2219.3,746.7 L2226.4,748.7 L2233.5,750.7" stroke="#0000ff" stroke-dasharray="31.5 41.1" stroke-linecap="round" stroke-dashoffset="0"/>
</g>
<g font-size="77" font-weight="bold" fill="#000">
<text x="1379" y="1662.8" text-anchor="middle">0</text>
<text x="1521.3" y="1662.8" text-anchor="middle">5</text>
<text x="1663.7" y="1662.8" text-anchor="middle">10</text>
<text x="1806" y="1662.8" text-anchor="middle">15</text>
<text x="1948.3" y="1662.8" text-anchor="middle">20</text>
<text x="2090.7" y="1662.8" text-anchor="middle">25</text>
<text x="2233" y="1662.8" text-anchor="middle">30</text>
<text x="1320.5" y="1568.5" text-anchor="end">20</text>
<text x="1320.5" y="1233" text-anchor="end">40</text>
<text x="1320.5" y="897.5" text-anchor="end">60</text>
<text x="1320.5" y="562" text-anchor="end">80</text>
<text x="1320.5" y="226.5" text-anchor="end">100</text>
</g>
</g>
<g id="panel-c">
<clipPath id="clip-c"><rect x="309.5" y="1719.5" width="854" height="1343"/></clipPath>
<path d="M309.5,1719.5 v34.5 M309.5,3062.5 v34.5 M380.7,1719.5 v17.5 M380.7,3062.5 v17.5 M451.8,1719.5 v34.5 M451.8,3062.5 v34.5 M523,1719.5 v17.5 M523,3062.5 v17.5 M594.2,1719.5 v34.5 M594.2,3062.5 v34.5 M665.3,1719.5 v17.5 M665.3,3062.5 v17.5 M736.5,1719.5 v34.5 M736.5,3062.5 v34.5 M807.7,1719.5 v17.5 M807.7,3062.5 v17.5 M878.8,1719.5 v34.5 M878.8,3062.5 v34.5 M950,1719.5 v17.5 M950,3062.5 v17.5 M1021.2,1719.5 v34.5 M1021.2,3062.5 v34.5 M1092.3,1719.5 v17.5 M1092.3,3062.5 v17.5 M1163.5,1719.5 v34.5 M1163.5,3062.5 v34.5 M309.5,3062.5 h-34.5 M1163.5,3062.5 h-34.5 M309.5,2894.6 h-17.5 M1163.5,2894.6 h-17.5 M309.5,2726.8 h-34.5 M1163.5,2726.8 h-34.5 M309.5,2558.9 h-17.5 M1163.5,2558.9 h-17.5 M309.5,2391 h-34.5 M1163.5,2391 h-34.5 M309.5,2223.1 h-17.5 M1163.5,2223.1 h-17.5 M309.5,2055.2 h-34.5 M1163.5,2055.2 h-34.5 M309.5,1887.4 h-17.5 M1163.5,1887.4 h-17.5 M309.5,1719.5 h-34.5 M1163.5,1719.5 h-34.5" stroke="#000" stroke-width="7" fill="none"/>
<rect x="309.5" y="1719.5" width="854" height="1343" fill="none" stroke="#000" stroke-width="7"/>
<g clip-path="url(#clip-c)" fill="none" stroke-width="9" stroke-linejoin="round">
<path id="c_black1" d="M309.5,2170.8 L316.6,2170.7 L323.7,2170.6 L330.9,2170.6 L338,2170.5 L345.1,2170.4 L352.2,2170.3 L359.3,2170.2 L366.4,2170.1 L373.6,2170 L380.7,2169.9 L387.8,2169.8 L394.9,2169.7 L402,2169.5 L409.1,2169.4 L416.2,2169.3 L423.4,2169.1 L430.5,2169 L437.6,2168.8 L444.7,2168.6 L451.8,2168.4 L458.9,2168.3 L466.1,2168.1 L473.2,2167.9 L480.3,2167.7 L487.4,2167.5 L494.5,2167.3 L501.6,2167 L508.8,2166.8 L515.9,2166.6 L523,2166.4 L530.1,2166.1 L537.2,2165.9 L544.4,2165.6 L551.5,2165.3 L558.6,2165.1 L565.7,2164.8 L572.8,2164.5 L579.9,2164.2 L587,2163.9 L594.2,2163.6 L601.3,2163.3 L608.4,2163 L615.5,2162.7 L622.6,2162.4 L629.8,2162 L636.9,2161.7 L644,2161.4 L651.1,2161 L658.2,2160.7 L665.3,2160.3 L672.5,2159.9 L679.6,2159.5 L686.7,2159.2 L693.8,2158.8 L700.9,2158.4 L708,2158 L715.1,2157.6 L722.3,2157.2 L729.4,2156.8 L736.5,2156.3 L743.6,2155.9 L750.7,2155.5 L757.8,2155 L765,2154.6 L772.1,2154.1 L779.2,2153.6 L786.3,2153.2 L793.4,2152.7 L800.5,2152.2 L807.7,2151.7 L814.8,2151.2 L821.9,2150.7 L829,2150.2 L836.1,2149.7 L843.2,2149.2 L850.4,2148.7 L857.5,2148.2 L864.6,2147.6 L871.7,2147.1 L878.8,2146.5 L885.9,2146 L893.1,2145.4 L900.2,2144.8 L907.3,2144.3 L914.4,2143.7 L921.5,2143.1 L928.6,2142.5 L935.8,2141.9 L942.9,2141.3 L950,2140.7 L957.1,2140.1 L964.2,2139.4 L971.3,2138.8 L978.5,2138.2 L985.6,2137.5 L992.7,2136.9 L999.8,2136.2 L1006.9,2135.6 L1014,2134.9 L1021.2,2134.2 L1028.3,2133.5 L1035.4,2132.9 L1042.5,2132.2 L1049.6,2131.5 L1056.8,2130.8 L1063.9,2130.1 L1071,2129.3 L1078.1,2128.6 L1085.2,2127.9 L1092.3,2127.1 L1099.4,2126.4 L1106.6,2125.7 L1113.7,2124.9 L1120.8,2124.1 L1127.9,2123.4 L1135,2122.6 L1142.2,2121.8 L1149.3,2121 L1156.4,2120.2 L1163.5,2119.4" stroke="#000000"/>
<path id="c_black2" d="M309.5,2653.6 L316.6,2653.5 L323.7,2653.4 L330.9,2653.3 L338,2653.2 L345.1,2653.1 L352.2,2653 L359.3,2652.9 L366.4,2652.8 L373.6,2652.7 L380.7,2652.5 L387.8,2652.4 L394.9,2652.3 L402,2652.1 L409.1,2652 L416.2,2651.8 L423.4,2651.7 L430.5,2651.5 L437.6,2651.4 L444.7,2651.2 L451.8,2651 L458.9,2650.9 L466.1,2650.7 L473.2,2650.5 L480.3,2650.3 L487.4,2650.1 L494.5,2649.9 L501.6,2649.7 L508.8,2649.5 L515.9,2649.3 L523,2649.1 L530.1,2648.9 L537.2,2648.7 L544.4,2648.5 L551.5,2648.3 L558.6,2648 L565.7,2647.8 L572.8,2647.6 L579.9,2647.3 L587,2647.1 L594.2,2646.8 L601.3,2646.6 L608.4,2646.3 L615.5,2646 L622.6,2645.8 L629.8,2645.5 L636.9,2645.2 L644,2645 L651.1,2644.7 L658.2,2644.4 L665.3,2644.1 L672.5,2643.8 L679.6,2643.5 L686.7,2643.2 L693.8,2642.9 L700.9,2642.6 L708,2642.3 L715.1,2642 L722.3,2641.6 L729.4,2641.3 L736.5,2641 L743.6,2640.6 L750.7,2640.3 L757.8,2640 L765,2639.6 L772.1,2639.3 L779.2,2638.9 L786.3,2638.6 L793.4,2638.2 L800.5,2637.8 L807.7,2637.5 L814.8,2637.1 L821.9,2636.7 L829,2636.3 L836.1,2635.9 L843.2,2635.5 L850.4,2635.1 L857.5,2634.7 L864.6,2634.3 L871.7,2633.9 L878.8,2633.5 L885.9,2633.1 L893.1,2632.7 L900.2,2632.3 L907.3,2631.8 L914.4,2631.4 L921.5,2631 L928.6,2630.5 L935.8,2630.1 L942.9,2629.6 L950,2629.2 L957.1,2628.7 L964.2,2628.3 L971.3,2627.8 L978.5,2627.3 L985.6,2626.9 L992.7,2626.4 L999.8,2625.9 L1006.9,2625.4 L1014,2624.9 L1021.2,2624.4 L1028.3,2623.9 L1035.4,2623.4 L1042.5,2622.9 L1049.6,2622.4 L1056.8,2621.9 L1063.9,2621.4 L1071,2620.9 L1078.1,2620.4 L1085.2,2619.8 L1092.3,2619.3 L1099.4,2618.8 L1106.6,2618.2 L1113.7,2617.7 L1120.8,2617.1 L1127.9,2616.6 L1135,2616 L1142.2,2615.4 L1149.3,2614.9 L1156.4,2614.3 L1163.5,2613.7" stroke="#000000"/>
<path id="c_black3" d="M309.5,3037.2 L316.6,3037.1 L323.7,3037.1 L330.9,3037 L338,3036.9 L345.1,3036.8 L352.2,3036.7 L359.3,3036.6 L366.4,3036.5 L373.6,3036.4 L380.7,3036.3 L387.8,3036.2 L394.9,3036 L402,3035.9 L409.1,3035.8 L416.2,3035.6 L423.4,3035.5 L430.5,3035.3 L437.6,3035.2 L444.7,3035 L451.8,3034.9 L458.9,3034.7 L466.1,3034.5 L473.2,3034.3 L480.3,3034.2 L487.4,3034 L494.5,3033.8 L501.6,3033.6 L508.8,3033.4 L515.9,3033.2 L523,3032.9 L530.1,3032.7 L537.2,3032.5 L544.4,3032.3 L551.5,3032 L558.6,3031.8 L565.7,3031.5 L572.8,3031.3 L579.9,3031 L587,3030.8 L594.2,3030.5 L601.3,3030.2 L608.4,3030 L615.5,3029.7 L622.6,3029.4 L629.8,3029.1 L636.9,3028.8 L644,3028.5 L651.1,3028.2 L658.2,3027.8 L665.3,3027.5 L672.5,3027.2 L679.6,3026.9 L686.7,3026.5 L693.8,3026.2 L700.9,3025.8 L708,3025.5 L715.1,3025.1 L722.3,3024.7 L729.4,3024.4 L736.5,3024 L743.6,3023.6 L750.7,3023.2 L757.8,3022.8 L765,3022.4 L772.1,3022 L779.2,3021.6 L786.3,3021.2 L793.4,3020.8 L800.5,3020.3 L807.7,3019.9 L814.8,3019.4 L821.9,3019 L829,3018.5 L836.1,3018.1 L843.2,3017.6 L850.4,3017.1 L857.5,3016.7 L864.6,3016.2 L871.7,3015.7 L878.8,3015.2 L885.9,3014.7 L893.1,3014.2 L900.2,3013.7 L907.3,3013.1 L914.4,3012.6 L921.5,3012.1 L928.6,3011.5 L935.8,3011 L942.9,3010.4 L950,3009.9 L957.1,3009.3 L964.2,3008.7 L971.3,3008.2 L978.5,3007.6 L985.6,3007 L992.7,3006.4 L999.8,3005.8 L1006.9,3005.2 L1014,3004.6 L1021.2,3003.9 L1028.3,3003.3 L1035.4,3002.7 L1042.5,3002 L1049.6,3001.4 L1056.8,3000.7 L1063.9,3000.1 L1071,2999.4 L1078.1,2998.7 L1085.2,2998 L1092.3,2997.3 L1099.4,2996.6 L1106.6,2995.9 L1113.7,2995.2 L1120.8,2994.5 L1127.9,2993.8 L1135,2993.1 L1142.2,2992.3 L1149.3,2991.6 L1156.4,2990.8 L1163.5,2990.1" stroke="#000000"/>
<path id="c_red1_solid" d="M309.5,2170.2 L316.6,2171.8 L323.7,2173.5 L330.9,2175.1 L338,2176.7 L345.1,2178.3 L352.2,2179.9 L359.3,2181.5 L366.4,2183.1 L373.6,2184.6 L380.7,2186.2 L387.8,2187.7 L394.9,2189.3 L402,2190.8 L409.1,2192.3 L416.2,2193.8 L423.4,2195.2 L430.5,2196.7 L437.6,2198.2 L444.7,2199.6 L451.8,2201 L458.9,2202.5 L466.1,2203.9 L473.2,2205.3 L480.3,2206.7 L487.4,2208 L494.5,2209.4 L501.6,2210.8 L508.8,2212.1 L515.9,2213.4 L523,2214.8 L530.1,2216.1 L537.2,2217.4 L544.4,2218.7 L551.5,2220 L558.6,2221.2 L565.7,2222.5 L572.8,2223.8 L579.9,2225 L587,2226.3 L594.2,2227.5 L601.3,2228.7 L608.4,2229.9 L615.5,2231.1 L622.6,2232.3 L629.8,2233.5 L636.9,2234.6 L644,2235.8 L651.1,2237 L658.2,2238.1 L665.3,2239.2 L672.5,2240.4 L679.6,2241.5 L686.7,2242.6 L693.8,2243.7 L700.9,2244.8 L708,2245.9 L715.1,2247 L722.3,2248 L729.4,2249.1 L736.5,2250.1 L743.6,2251.2 L750.7,2252.2 L757.8,2253.2 L765,2254.3 L772.1,2255.3 L779.2,2256.3 L786.3,2257.3 L793.4,2258.3 L800.5,2259.3 L807.7,2260.2 L814.8,2261.2 L821.9,2262.2 L829,2263.1 L836.1,2264.1 L843.2,2265 L850.4,2265.9 L857.5,2266.9 L864.6,2267.8 L871.7,2268.7 L878.8,2269.6 L885.9,2270.5 L893.1,2271.4 L900.2,2272.3 L907.3,2273.2 L914.4,2274 L921.5,2274.9 L928.6,2275.8 L935.8,2276.6 L942.9,2277.5 L950,2278.3 L957.1,2279.2 L964.2,2280 L971.3,2280.8 L978.5,2281.7 L985.6,2282.5 L992.7,2283.3 L999.8,2284.1 L1006.9,2284.9 L1014,2285.7 L1021.2,2286.5 L1028.3,2287.3 L1035.4,2288.1 L1042.5,2288.8 L1049.6,2289.6 L1056.8,2290.4 L1063.9,2291.1 L1071,2291.9 L1078.1,2292.7 L1085.2,2293.4 L1092.3,2294.2 L1099.4,2294.9 L1106.6,2295.6 L1113.7,2296.4 L1120.8,2297.1 L1127.9,2297.8 L1135,2298.5 L1142.2,2299.3 L1149.3,2300 L1156.4,2300.7 L1163.5,2301.4" stroke="#ff0000"/>
<path id="c_red2_solid" d="M309.5,2653 L316.6,2654.9 L323.7,2656.7 L330.9,2658.5 L338,2660.2 L345.1,2662 L352.2,2663.7 L359.3,2665.4 L366.4,2667.1 L373.6,2668.7 L380.7,2670.4 L387.8,2672 L394.9,2673.6 L402,2675.2 L409.1,2676.7 L416.2,2678.3 L423.4,2679.8 L430.5,2681.3 L437.6,2682.8 L444.7,2684.2 L451.8,2685.7 L458.9,2687.1 L466.1,2688.5 L473.2,2689.9 L480.3,2691.3 L487.4,2692.7 L494.5,2694 L501.6,2695.3 L508.8,2696.6 L515.9,2697.9 L523,2699.2 L530.1,2700.5 L537.2,2701.7 L544.4,2702.9 L551.5,2704.1 L558.6,2705.3 L565.7,2706.5 L572.8,2707.7 L579.9,2708.8 L587,2710 L594.2,2711.1 L601.3,2712.2 L608.4,2713.3 L615.5,2714.4 L622.6,2715.5 L629.8,2716.5 L636.9,2717.6 L644,2718.6 L651.1,2719.6 L658.2,2720.6 L665.3,2721.6 L672.5,2722.6 L679.6,2723.6 L686.7,2724.5 L693.8,2725.5 L700.9,2726.4 L708,2727.3 L715.1,2728.2 L722.3,2729.1 L729.4,2730 L736.5,2730.9 L743.6,2731.8 L750.7,2732.7 L757.8,2733.5 L765,2734.3 L772.1,2735.2 L779.2,2736 L786.3,2736.8 L793.4,2737.6 L800.5,2738.4 L807.7,2739.2 L814.8,2740 L821.9,2740.8 L829,2741.5 L836.1,2742.3 L843.2,2743.1 L850.4,2743.8 L857.5,2744.5 L864.6,2745.3 L871.7,2746 L878.8,2746.7 L885.9,2747.4 L893.1,2748.1 L900.2,2748.9 L907.3,2749.5 L914.4,2750.2 L921.5,2750.9 L928.6,2751.6 L935.8,2752.3 L942.9,2753 L950,2753.6 L957.1,2754.3 L964.2,2755 L971.3,2755.6 L978.5,2756.3 L985.6,2756.9 L992.7,2757.6 L999.8,2758.2 L1006.9,2758.9 L1014,2759.5 L1021.2,2760.2 L1028.3,2760.8 L1035.4,2761.4 L1042.5,2762.1 L1049.6,2762.7 L1056.8,2763.3 L1063.9,2764 L1071,2764.6 L1078.1,2765.2 L1085.2,2765.9 L1092.3,2766.5 L1099.4,2767.1 L1106.6,2767.7 L1113.7,2768.4 L1120.8,2769 L1127.9,2769.6 L1135,2770.3 L1142.2,2770.9 L1149.3,2771.5 L1156.4,2772.2 L1163.5,2772.8" stroke="#ff0000"/>
<path id="c_red1_dash" d="M309.5,2170.3 L316.6,2168.6 L323.7,2167 L330.9,2165.3 L338,2163.6 L345.1,2162 L352.2,2160.3 L359.3,2158.6 L366.4,2156.9 L373.6,2155.2 L380.7,2153.4 L387.8,2151.7 L394.9,2150 L402,2148.2 L409.1,2146.5 L416.2,2144.7 L423.4,2142.9 L430.5,2141.2 L437.6,2139.4 L444.7,2137.6 L451.8,2135.8 L458.9,2134 L466.1,2132.1 L473.2,2130.3 L480.3,2128.5 L487.4,2126.6 L494.5,2124.8 L501.6,2122.9 L508.8,2121 L515.9,2119.1 L523,2117.3 L530.1,2115.4 L537.2,2113.4 L544.4,2111.5 L551.5,2109.6 L558.6,2107.7 L565.7,2105.7 L572.8,2103.8 L579.9,2101.8 L587,2099.9 L594.2,2097.9 L601.3,2095.9 L608.4,2093.9 L615.5,2091.9 L622.6,2089.9 L629.8,2087.9 L636.9,2085.9 L644,2083.8 L651.1,2081.8 L658.2,2079.8 L665.3,2077.7 L672.5,2075.6 L679.6,2073.6 L686.7,2071.5 L693.8,2069.4 L700.9,2067.3 L708,2065.2 L715.1,2063.1 L722.3,2060.9 L729.4,2058.8 L736.5,2056.7 L743.6,2054.5 L750.7,2052.4 L757.8,2050.2 L765,2048 L772.1,2045.8 L779.2,2043.6 L786.3,2041.4 L793.4,2039.2 L800.5,2037 L807.7,2034.8 L814.8,2032.6 L821.9,2030.3 L829,2028.1 L836.1,2025.8 L843.2,2023.6 L850.4,2021.3 L857.5,2019 L864.6,2016.7 L871.7,2014.4 L878.8,2012.1 L885.9,2009.8 L893.1,2007.5 L900.2,2005.1 L907.3,2002.8 L914.4,2000.4 L921.5,1998.1 L928.6,1995.7 L935.8,1993.4 L942.9,1991 L950,1988.6 L957.1,1986.2 L964.2,1983.8 L971.3,1981.4 L978.5,1978.9 L985.6,1976.5 L992.7,1974.1 L999.8,1971.6 L1006.9,1969.2 L1014,1966.7 L1021.2,1964.2 L1028.3,1961.8 L1035.4,1959.3 L1042.5,1956.8 L1049.6,1954.3 L1056.8,1951.8 L1063.9,1949.2 L1071,1946.7 L1078.1,1944.2 L1085.2,1941.6 L1092.3,1939.1 L1099.4,1936.5 L1106.6,1933.9 L1113.7,1931.4 L1120.8,1928.8 L1127.9,1926.2 L1135,1923.6 L1142.2,1921 L1149.3,1918.3 L1156.4,1915.7 L1163.5,1913.1" stroke="#ff0000" stroke-dasharray="31.5 38.7" stroke-linecap="round" stroke-dashoffset="0"/>
<path id="c_red2_dash" d="M309.5,2653.1 L316.6,2651.5 L323.7,2649.9 L330.9,2648.2 L338,2646.6 L345.1,2644.9 L352.2,2643.2 L359.3,2641.5 L366.4,2639.8 L373.6,2638.1 L380.7,2636.4 L387.8,2634.7 L394.9,2632.9 L402,2631.2 L409.1,2629.4 L416.2,2627.7 L423.4,2625.9 L430.5,2624.1 L437.6,2622.3 L444.7,2620.5 L451.8,2618.7 L458.9,2616.9 L466.1,2615 L473.2,2613.2 L480.3,2611.3 L487.4,2609.4 L494.5,2607.6 L501.6,2605.7 L508.8,2603.8 L515.9,2601.9 L523,2599.9 L530.1,2598 L537.2,2596.1 L544.4,2594.1 L551.5,2592.2 L558.6,2590.2 L565.7,2588.2 L572.8,2586.2 L579.9,2584.2 L587,2582.2 L594.2,2580.2 L601.3,2578.2 L608.4,2576.1 L615.5,2574.1 L622.6,2572 L629.8,2569.9 L636.9,2567.8 L644,2565.7 L651.1,2563.6 L658.2,2561.5 L665.3,2559.4 L672.5,2557.3 L679.6,2555.1 L686.7,2553 L693.8,2550.8 L700.9,2548.6 L708,2546.4 L715.1,2544.2 L722.3,2542 L729.4,2539.8 L736.5,2537.6 L743.6,2535.3 L750.7,2533.1 L757.8,2530.8 L765,2528.5 L772.1,2526.3 L779.2,2524 L786.3,2521.7 L793.4,2519.4 L800.5,2517 L807.7,2514.7 L814.8,2512.3 L821.9,2510 L829,2507.6 L836.1,2505.2 L843.2,2502.9 L850.4,2500.5 L857.5,2498.1 L864.6,2495.6 L871.7,2493.2 L878.8,2490.8 L885.9,2488.3 L893.1,2485.8 L900.2,2483.4 L907.3,2480.9 L914.4,2478.4 L921.5,2475.9 L928.6,2473.4 L935.8,2470.8 L942.9,2468.3 L950,2465.8 L957.1,2463.2 L964.2,2460.6 L971.3,2458.1 L978.5,2455.5 L985.6,2452.9 L992.7,2450.2 L999.8,2447.6 L1006.9,2445 L1014,2442.3 L1021.2,2439.7 L1028.3,2437 L1035.4,2434.3 L1042.5,2431.7 L1049.6,2429 L1056.8,2426.2 L1063.9,2423.5 L1071,2420.8 L1078.1,2418.1 L1085.2,2415.3 L1092.3,2412.5 L1099.4,2409.8 L1106.6,2407 L1113.7,2404.2 L1120.8,2401.4 L1127.9,2398.5 L1135,2395.7 L1142.2,2392.9 L1149.3,2390 L1156.4,2387.2 L1163.5,2384.3" stroke="#ff0000" stroke-dasharray="31.5 42.4" stroke-linecap="round" stroke-dashoffset="0"/>
<path id="c_blue_solid" d="M309.5,2170.1 L316.6,2173.4 L323.7,2176.6 L330.9,2179.7 L338,2182.9 L345.1,2186.1 L352.2,2189.2 L359.3,2192.4 L366.4,2195.5 L373.6,2198.6 L380.7,2201.7 L387.8,2204.8 L394.9,2207.9 L402,2211 L409.1,2214 L416.2,2217.1 L423.4,2220.1 L430.5,2223.1 L437.6,2226.2 L444.7,2229.1 L451.8,2232.1 L458.9,2235.1 L466.1,2238.1 L473.2,2241 L480.3,2244 L487.4,2246.9 L494.5,2249.8 L501.6,2252.7 L508.8,2255.6 L515.9,2258.4 L523,2261.3 L530.1,2264.2 L537.2,2267 L544.4,2269.8 L551.5,2272.6 L558.6,2275.4 L565.7,2278.2 L572.8,2281 L579.9,2283.7 L587,2286.5 L594.2,2289.2 L601.3,2292 L608.4,2294.7 L615.5,2297.4 L622.6,2300 L629.8,2302.7 L636.9,2305.4 L644,2308 L651.1,2310.7 L658.2,2313.3 L665.3,2315.9 L672.5,2318.5 L679.6,2321.1 L686.7,2323.6 L693.8,2326.2 L700.9,2328.7 L708,2331.3 L715.1,2333.8 L722.3,2336.3 L729.4,2338.8 L736.5,2341.2 L743.6,2343.7 L750.7,2346.2 L757.8,2348.6 L765,2351 L772.1,2353.4 L779.2,2355.8 L786.3,2358.2 L793.4,2360.6 L800.5,2362.9 L807.7,2365.3 L814.8,2367.6 L821.9,2369.9 L829,2372.2 L836.1,2374.5 L843.2,2376.8 L850.4,2379.1 L857.5,2381.3 L864.6,2383.5 L871.7,2385.8 L878.8,2388 L885.9,2390.2 L893.1,2392.3 L900.2,2394.5 L907.3,2396.7 L914.4,2398.8 L921.5,2400.9 L928.6,2403 L935.8,2405.1 L942.9,2407.2 L950,2409.3 L957.1,2411.4 L964.2,2413.4 L971.3,2415.4 L978.5,2417.4 L985.6,2419.4 L992.7,2421.4 L999.8,2423.4 L1006.9,2425.4 L1014,2427.3 L1021.2,2429.2 L1028.3,2431.2 L1035.4,2433.1 L1042.5,2435 L1049.6,2436.8 L1056.8,2438.7 L1063.9,2440.5 L1071,2442.4 L1078.1,2444.2 L1085.2,2446 L1092.3,2447.8 L1099.4,2449.5 L1106.6,2451.3 L1113.7,2453.1 L1120.8,2454.8 L1127.9,2456.5 L1135,2458.2 L1142.2,2459.9 L1149.3,2461.6 L1156.4,2463.2 L1163.5,2464.9" stroke="#0000ff"/>
<path id="c_blue_dash" d="M309.5,2170.3 L316.6,2167.1 L323.7,2163.9 L330.9,2160.7 L338,2157.4 L345.1,2154.2 L352.2,2150.9 L359.3,2147.6 L366.4,2144.3 L373.6,2141 L380.7,2137.7 L387.8,2134.3 L394.9,2131 L402,2127.6 L409.1,2124.2 L416.2,2120.8 L423.4,2117.4 L430.5,2114 L437.6,2110.5 L444.7,2107.1 L451.8,2103.6 L458.9,2100.1 L466.1,2096.6 L473.2,2093.1 L480.3,2089.5 L487.4,2086 L494.5,2082.4 L501.6,2078.9 L508.8,2075.3 L515.9,2071.7 L523,2068.1 L530.1,2064.4 L537.2,2060.8 L544.4,2057.1 L551.5,2053.5 L558.6,2049.8 L565.7,2046.1 L572.8,2042.4 L579.9,2038.6 L587,2034.9 L594.2,2031.2 L601.3,2027.4 L608.4,2023.6 L615.5,2019.8 L622.6,2016 L629.8,2012.2 L636.9,2008.3 L644,2004.5 L651.1,2000.6 L658.2,1996.8 L665.3,1992.9 L672.5,1989 L679.6,1985 L686.7,1981.1 L693.8,1977.2 L700.9,1973.2 L708,1969.2 L715.1,1965.3 L722.3,1961.3 L729.4,1957.3 L736.5,1953.2 L743.6,1949.2 L750.7,1945.1 L757.8,1941.1 L765,1937 L772.1,1932.9 L779.2,1928.8 L786.3,1924.7 L793.4,1920.6 L800.5,1916.4 L807.7,1912.3 L814.8,1908.1 L821.9,1903.9 L829,1899.7 L836.1,1895.5 L843.2,1891.3 L850.4,1887.1 L857.5,1882.8 L864.6,1878.6 L871.7,1874.3 L878.8,1870 L885.9,1865.7 L893.1,1861.4 L900.2,1857.1 L907.3,1852.8 L914.4,1848.4 L921.5,1844.1 L928.6,1839.7 L935.8,1835.3 L942.9,1830.9 L950,1826.5 L957.1,1822.1 L964.2,1817.7 L971.3,1813.2 L978.5,1808.8 L985.6,1804.3 L992.7,1799.8 L999.8,1795.3 L1006.9,1790.8 L1014,1786.3 L1021.2,1781.7 L1028.3,1777.2 L1035.4,1772.7 L1042.5,1768.1 L1049.6,1763.5 L1056.8,1758.9 L1063.9,1754.3 L1071,1749.7 L1078.1,1745.1 L1085.2,1740.4 L1092.3,1735.8 L1099.4,1731.1 L1106.6,1726.4 L1113.7,1721.8 L1120.8,1717.1 L1127.9,1712.3 L1135,1707.6 L1142.2,1702.9 L1149.3,1698.1 L1156.4,1693.4 L1163.5,1688.6" stroke="#0000ff" stroke-dasharray="31.5 42.4" stroke-linecap="round" stroke-dashoffset="0"/>
</g>
<g font-size="77" font-weight="bold" fill="#000">
<text x="309" y="3177.8" text-anchor="middle">0</text>
<text x="451.3" y="3177.8" text-anchor="middle">5</text>
<text x="593.7" y="3177.8" text-anchor="middle">10</text>
<text x="736" y="3177.8" text-anchor="middle">15</text>
<text x="878.3" y="3177.8" text-anchor="middle">20</text>
<text x="1020.7" y="3177.8" text-anchor="middle">25</text>
<text x="1163" y="3177.8" text-anchor="middle">30</text>
<text x="250.5" y="3083.5" text-anchor="end">15</text>
<text x="250.5" y="2747.8" text-anchor="end">30</text>
<text x="250.5" y="2412" text-anchor="end">45</text>
<text x="250.5" y="2076.2" text-anchor="end">60</text>
<text x="250.5" y="1740.5" text-anchor="end">75</text>
</g>
</g>
<g id="panel-d">
<clipPath id="clip-d"><rect x="1379.5" y="1719.5" width="854" height="1343"/></clipPath>
<path d="M1379.5,1719.5 v34.5 M1379.5,3062.5 v34.5 M1450.7,1719.5 v17.5 M1450.7,3062.5 v17.5 M1521.8,1719.5 v34.5 M1521.8,3062.5 v34.5 M1593,1719.5 v17.5 M1593,3062.5 v17.5 M1664.2,1719.5 v34.5 M1664.2,3062.5 v34.5 M1735.3,1719.5 v17.5 M1735.3,3062.5 v17.5 M1806.5,1719.5 v34.5 M1806.5,3062.5 v34.5 M1877.7,1719.5 v17.5 M1877.7,3062.5 v17.5 M1948.8,1719.5 v34.5 M1948.8,3062.5 v34.5 M2020,1719.5 v17.5 M2020,3062.5 v17.5 M2091.2,1719.5 v34.5 M2091.2,3062.5 v34.5 M2162.3,1719.5 v17.5 M2162.3,3062.5 v17.5 M2233.5,1719.5 v34.5 M2233.5,3062.5 v34.5 M1379.5,3062.5 h-34.5 M2233.5,3062.5 h-34.5 M1379.5,2838.7 h-17.5 M2233.5,2838.7 h-17.5 M1379.5,2614.8 h-34.5 M2233.5,2614.8 h-34.5 M1379.5,2391 h-17.5 M2233.5,2391 h-17.5 M1379.5,2167.2 h-34.5 M2233.5,2167.2 h-34.5 M1379.5,1943.3 h-17.5 M2233.5,1943.3 h-17.5 M1379.5,1719.5 h-34.5 M2233.5,1719.5 h-34.5" stroke="#000" stroke-width="7" fill="none"/>
<rect x="1379.5" y="1719.5" width="854" height="1343" fill="none" stroke="#000" stroke-width="7"/>
<g clip-path="url(#clip-d)" fill="none" stroke-width="9" stroke-linejoin="round">
<path id="d_black1" d="M1379.5,2006 L1386.6,2006.1 L1393.7,2006 L1400.8,2006 L1408,2005.8 L1415.1,2005.6 L1422.2,2005.4 L1429.3,2005 L1436.4,2004.7 L1443.5,2004.2 L1450.7,2003.7 L1457.8,2003.2 L1464.9,2002.5 L1472,2001.9 L1479.1,2001.2 L1486.2,2000.4 L1493.4,1999.6 L1500.5,1998.7 L1507.6,1997.7 L1514.7,1996.8 L1521.8,1995.7 L1529,1994.6 L1536.1,1993.5 L1543.2,1992.3 L1550.3,1991.1 L1557.4,1989.8 L1564.5,1988.4 L1571.7,1987.1 L1578.8,1985.6 L1585.9,1984.1 L1593,1982.6 L1600.1,1981 L1607.2,1979.4 L1614.3,1977.8 L1621.5,1976 L1628.6,1974.3 L1635.7,1972.5 L1642.8,1970.6 L1649.9,1968.7 L1657,1966.8 L1664.2,1964.8 L1671.3,1962.7 L1678.4,1960.6 L1685.5,1958.5 L1692.6,1956.3 L1699.8,1954.1 L1706.9,1951.8 L1714,1949.4 L1721.1,1947.1 L1728.2,1944.6 L1735.3,1942.2 L1742.5,1939.6 L1749.6,1937.1 L1756.7,1934.4 L1763.8,1931.7 L1770.9,1929 L1778,1926.2 L1785.2,1923.4 L1792.3,1920.5 L1799.4,1917.6 L1806.5,1914.6 L1813.6,1911.5 L1820.7,1908.4 L1827.8,1905.2 L1835,1902 L1842.1,1898.7 L1849.2,1895.4 L1856.3,1892 L1863.4,1888.5 L1870.5,1885 L1877.7,1881.4 L1884.8,1877.8 L1891.9,1874 L1899,1870.3 L1906.1,1866.4 L1913.2,1862.5 L1920.4,1858.5 L1927.5,1854.5 L1934.6,1850.3 L1941.7,1846.1 L1948.8,1841.8 L1955.9,1837.5 L1963.1,1833.1 L1970.2,1828.6 L1977.3,1824 L1984.4,1819.3 L1991.5,1814.6 L1998.7,1809.7 L2005.8,1804.8 L2012.9,1799.8 L2020,1794.7 L2027.1,1789.5 L2034.2,1784.3 L2041.3,1778.9 L2048.5,1773.4 L2055.6,1767.9 L2062.7,1762.2 L2069.8,1756.5 L2076.9,1750.6 L2084.1,1744.6 L2091.2,1738.6 L2098.3,1732.4 L2105.4,1726.1 L2112.5,1719.7 L2119.6,1713.2 L2126.8,1706.6 L2133.9,1699.9 L2141,1693 L2148.1,1686 L2155.2,1678.9 L2162.3,1671.7 L2169.4,1664.3 L2176.6,1656.8 L2183.7,1649.2 L2190.8,1641.5 L2197.9,1633.6 L2205,1625.6 L2212.2,1617.4 L2219.3,1609.1 L2226.4,1600.6 L2233.5,1592" stroke="#000000"/>
<path id="d_black2" d="M1379.5,2291.5 L1386.6,2291.2 L1393.7,2290.9 L1400.8,2290.5 L1408,2290.1 L1415.1,2289.6 L1422.2,2289.1 L1429.3,2288.6 L1436.4,2288 L1443.5,2287.3 L1450.7,2286.6 L1457.8,2285.8 L1464.9,2284.9 L1472,2284 L1479.1,2283 L1486.2,2282 L1493.4,2280.9 L1500.5,2279.7 L1507.6,2278.4 L1514.7,2277.1 L1521.8,2275.7 L1529,2274.2 L1536.1,2272.6 L1543.2,2270.9 L1550.3,2269.2 L1557.4,2267.4 L1564.5,2265.5 L1571.7,2263.5 L1578.8,2261.4 L1585.9,2259.3 L1593,2257 L1600.1,2254.7 L1607.2,2252.3 L1614.3,2249.8 L1621.5,2247.2 L1628.6,2244.6 L1635.7,2241.8 L1642.8,2239 L1649.9,2236.1 L1657,2233.1 L1664.2,2230 L1671.3,2226.8 L1678.4,2223.6 L1685.5,2220.2 L1692.6,2216.8 L1699.8,2213.3 L1706.9,2209.7 L1714,2206.1 L1721.1,2202.4 L1728.2,2198.5 L1735.3,2194.7 L1742.5,2190.7 L1749.6,2186.6 L1756.7,2182.5 L1763.8,2178.4 L1770.9,2174.1 L1778,2169.8 L1785.2,2165.4 L1792.3,2160.9 L1799.4,2156.4 L1806.5,2151.8 L1813.6,2147.2 L1820.7,2142.4 L1827.8,2137.7 L1835,2132.8 L1842.1,2127.9 L1849.2,2123 L1856.3,2118 L1863.4,2113 L1870.5,2107.9 L1877.7,2102.7 L1884.8,2097.5 L1891.9,2092.3 L1899,2087 L1906.1,2081.6 L1913.2,2076.3 L1920.4,2070.9 L1927.5,2065.4 L1934.6,2059.9 L1941.7,2054.4 L1948.8,2048.8 L1955.9,2043.3 L1963.1,2037.6 L1970.2,2032 L1977.3,2026.3 L1984.4,2020.6 L1991.5,2014.9 L1998.7,2009.1 L2005.8,2003.4 L2012.9,1997.6 L2020,1991.8 L2027.1,1985.9 L2034.2,1980.1 L2041.3,1974.2 L2048.5,1968.4 L2055.6,1962.5 L2062.7,1956.6 L2069.8,1950.7 L2076.9,1944.8 L2084.1,1938.9 L2091.2,1932.9 L2098.3,1927 L2105.4,1921 L2112.5,1915.1 L2119.6,1909.1 L2126.8,1903.2 L2133.9,1897.2 L2141,1891.3 L2148.1,1885.3 L2155.2,1879.3 L2162.3,1873.4 L2169.4,1867.4 L2176.6,1861.4 L2183.7,1855.5 L2190.8,1849.5 L2197.9,1843.5 L2205,1837.6 L2212.2,1831.6 L2219.3,1825.6 L2226.4,1819.7 L2233.5,1813.7" stroke="#000000"/>
<path id="d_black3" d="M1379.5,2640.5 L1386.6,2639.9 L1393.7,2639.4 L1400.8,2638.8 L1408,2638.1 L1415.1,2637.5 L1422.2,2636.9 L1429.3,2636.2 L1436.4,2635.6 L1443.5,2634.9 L1450.7,2634.2 L1457.8,2633.5 L1464.9,2632.7 L1472,2631.9 L1479.1,2631.1 L1486.2,2630.3 L1493.4,2629.4 L1500.5,2628.6 L1507.6,2627.6 L1514.7,2626.7 L1521.8,2625.7 L1529,2624.7 L1536.1,2623.6 L1543.2,2622.6 L1550.3,2621.4 L1557.4,2620.3 L1564.5,2619.1 L1571.7,2617.8 L1578.8,2616.6 L1585.9,2615.2 L1593,2613.9 L1600.1,2612.5 L1607.2,2611 L1614.3,2609.5 L1621.5,2608 L1628.6,2606.4 L1635.7,2604.8 L1642.8,2603.1 L1649.9,2601.4 L1657,2599.6 L1664.2,2597.8 L1671.3,2595.9 L1678.4,2594 L1685.5,2592.1 L1692.6,2590.1 L1699.8,2588 L1706.9,2586 L1714,2583.8 L1721.1,2581.6 L1728.2,2579.4 L1735.3,2577.1 L1742.5,2574.8 L1749.6,2572.4 L1756.7,2570 L1763.8,2567.5 L1770.9,2565 L1778,2562.5 L1785.2,2559.9 L1792.3,2557.2 L1799.4,2554.6 L1806.5,2551.8 L1813.6,2549.1 L1820.7,2546.3 L1827.8,2543.4 L1835,2540.5 L1842.1,2537.6 L1849.2,2534.6 L1856.3,2531.6 L1863.4,2528.6 L1870.5,2525.5 L1877.7,2522.4 L1884.8,2519.3 L1891.9,2516.1 L1899,2512.9 L1906.1,2509.7 L1913.2,2506.4 L1920.4,2503.1 L1927.5,2499.8 L1934.6,2496.5 L1941.7,2493.1 L1948.8,2489.7 L1955.9,2486.3 L1963.1,2482.9 L1970.2,2479.5 L1977.3,2476 L1984.4,2472.6 L1991.5,2469.1 L1998.7,2465.6 L2005.8,2462.1 L2012.9,2458.6 L2020,2455.1 L2027.1,2451.6 L2034.2,2448.1 L2041.3,2444.6 L2048.5,2441.1 L2055.6,2437.7 L2062.7,2434.2 L2069.8,2430.7 L2076.9,2427.2 L2084.1,2423.8 L2091.2,2420.4 L2098.3,2417 L2105.4,2413.6 L2112.5,2410.2 L2119.6,2406.9 L2126.8,2403.6 L2133.9,2400.3 L2141,2397.1 L2148.1,2393.9 L2155.2,2390.7 L2162.3,2387.6 L2169.4,2384.5 L2176.6,2381.5 L2183.7,2378.5 L2190.8,2375.6 L2197.9,2372.7 L2205,2370 L2212.2,2367.2 L2219.3,2364.5 L2226.4,2361.9 L2233.5,2359.4" stroke="#000000"/>
<path id="d_red1_solid" d="M1379.5,2036.3 L1386.6,2040.9 L1393.7,2045.3 L1400.8,2049.5 L1408,2053.7 L1415.1,2057.8 L1422.2,2061.8 L1429.3,2065.6 L1436.4,2069.4 L1443.5,2073 L1450.7,2076.5 L1457.8,2080 L1464.9,2083.3 L1472,2086.5 L1479.1,2089.7 L1486.2,2092.7 L1493.4,2095.7 L1500.5,2098.5 L1507.6,2101.3 L1514.7,2103.9 L1521.8,2106.5 L1529,2109 L1536.1,2111.3 L1543.2,2113.6 L1550.3,2115.8 L1557.4,2118 L1564.5,2120 L1571.7,2121.9 L1578.8,2123.8 L1585.9,2125.6 L1593,2127.3 L1600.1,2128.9 L1607.2,2130.4 L1614.3,2131.8 L1621.5,2133.2 L1628.6,2134.5 L1635.7,2135.7 L1642.8,2136.8 L1649.9,2137.9 L1657,2138.8 L1664.2,2139.7 L1671.3,2140.6 L1678.4,2141.3 L1685.5,2142 L1692.6,2142.6 L1699.8,2143.1 L1706.9,2143.6 L1714,2143.9 L1721.1,2144.2 L1728.2,2144.5 L1735.3,2144.6 L1742.5,2144.7 L1749.6,2144.8 L1756.7,2144.7 L1763.8,2144.6 L1770.9,2144.4 L1778,2144.2 L1785.2,2143.8 L1792.3,2143.4 L1799.4,2143 L1806.5,2142.5 L1813.6,2141.9 L1820.7,2141.2 L1827.8,2140.5 L1835,2139.7 L1842.1,2138.8 L1849.2,2137.9 L1856.3,2136.9 L1863.4,2135.8 L1870.5,2134.7 L1877.7,2133.5 L1884.8,2132.2 L1891.9,2130.9 L1899,2129.5 L1906.1,2128.1 L1913.2,2126.5 L1920.4,2124.9 L1927.5,2123.3 L1934.6,2121.6 L1941.7,2119.8 L1948.8,2117.9 L1955.9,2116 L1963.1,2114 L1970.2,2111.9 L1977.3,2109.8 L1984.4,2107.6 L1991.5,2105.3 L1998.7,2103 L2005.8,2100.6 L2012.9,2098.1 L2020,2095.6 L2027.1,2093 L2034.2,2090.3 L2041.3,2087.6 L2048.5,2084.8 L2055.6,2081.9 L2062.7,2078.9 L2069.8,2075.9 L2076.9,2072.8 L2084.1,2069.6 L2091.2,2066.3 L2098.3,2063 L2105.4,2059.6 L2112.5,2056.1 L2119.6,2052.6 L2126.8,2049 L2133.9,2045.3 L2141,2041.5 L2148.1,2037.6 L2155.2,2033.7 L2162.3,2029.7 L2169.4,2025.6 L2176.6,2021.4 L2183.7,2017.1 L2190.8,2012.8 L2197.9,2008.3 L2205,2003.8 L2212.2,1999.2 L2219.3,1994.6 L2226.4,1989.8 L2233.5,1984.9" stroke="#ff0000"/>
<path id="d_red2_solid" d="M1379.5,2409.2 L1386.6,2413.1 L1393.7,2416.9 L1400.8,2420.7 L1408,2424.4 L1415.1,2428 L1422.2,2431.5 L1429.3,2435 L1436.4,2438.4 L1443.5,2441.7 L1450.7,2444.9 L1457.8,2448.1 L1464.9,2451.2 L1472,2454.2 L1479.1,2457.1 L1486.2,2459.9 L1493.4,2462.7 L1500.5,2465.4 L1507.6,2468 L1514.7,2470.5 L1521.8,2473 L1529,2475.3 L1536.1,2477.6 L1543.2,2479.8 L1550.3,2481.9 L1557.4,2484 L1564.5,2486 L1571.7,2487.8 L1578.8,2489.6 L1585.9,2491.4 L1593,2493 L1600.1,2494.6 L1607.2,2496.1 L1614.3,2497.5 L1621.5,2498.8 L1628.6,2500 L1635.7,2501.2 L1642.8,2502.3 L1649.9,2503.3 L1657,2504.2 L1664.2,2505.1 L1671.3,2505.9 L1678.4,2506.6 L1685.5,2507.2 L1692.6,2507.7 L1699.8,2508.2 L1706.9,2508.6 L1714,2508.9 L1721.1,2509.1 L1728.2,2509.3 L1735.3,2509.4 L1742.5,2509.4 L1749.6,2509.4 L1756.7,2509.2 L1763.8,2509 L1770.9,2508.7 L1778,2508.4 L1785.2,2508 L1792.3,2507.5 L1799.4,2506.9 L1806.5,2506.3 L1813.6,2505.6 L1820.7,2504.9 L1827.8,2504 L1835,2503.1 L1842.1,2502.2 L1849.2,2501.1 L1856.3,2500.1 L1863.4,2498.9 L1870.5,2497.7 L1877.7,2496.4 L1884.8,2495.1 L1891.9,2493.7 L1899,2492.3 L1906.1,2490.7 L1913.2,2489.2 L1920.4,2487.6 L1927.5,2485.9 L1934.6,2484.2 L1941.7,2482.4 L1948.8,2480.6 L1955.9,2478.7 L1963.1,2476.7 L1970.2,2474.8 L1977.3,2472.8 L1984.4,2470.7 L1991.5,2468.6 L1998.7,2466.4 L2005.8,2464.2 L2012.9,2462 L2020,2459.7 L2027.1,2457.4 L2034.2,2455 L2041.3,2452.7 L2048.5,2450.2 L2055.6,2447.8 L2062.7,2445.3 L2069.8,2442.8 L2076.9,2440.3 L2084.1,2437.7 L2091.2,2435.1 L2098.3,2432.5 L2105.4,2429.8 L2112.5,2427.2 L2119.6,2424.5 L2126.8,2421.8 L2133.9,2419.1 L2141,2416.4 L2148.1,2413.6 L2155.2,2410.9 L2162.3,2408.1 L2169.4,2405.4 L2176.6,2402.6 L2183.7,2399.8 L2190.8,2397 L2197.9,2394.3 L2205,2391.5 L2212.2,2388.7 L2219.3,2386 L2226.4,2383.2 L2233.5,2380.4" stroke="#ff0000"/>
<path id="d_red1_dash" d="M1379.5,2036.6 L1386.6,2032.5 L1393.7,2028.3 L1400.8,2024.1 L1408,2019.8 L1415.1,2015.4 L1422.2,2011 L1429.3,2006.4 L1436.4,2001.8 L1443.5,1997.1 L1450.7,1992.4 L1457.8,1987.5 L1464.9,1982.6 L1472,1977.6 L1479.1,1972.5 L1486.2,1967.4 L1493.4,1962.2 L1500.5,1956.9 L1507.6,1951.5 L1514.7,1946.1 L1521.8,1940.6 L1529,1935 L1536.1,1929.3 L1543.2,1923.6 L1550.3,1917.8 L1557.4,1912 L1564.5,1906 L1571.7,1900 L1578.8,1893.9 L1585.9,1887.8 L1593,1881.6 L1600.1,1875.3 L1607.2,1868.9 L1614.3,1862.5 L1621.5,1856 L1628.6,1849.4 L1635.7,1842.8 L1642.8,1836.1 L1649.9,1829.4 L1657,1822.6 L1664.2,1815.7 L1671.3,1808.7 L1678.4,1801.7 L1685.5,1794.6 L1692.6,1787.5 L1699.8,1780.3 L1706.9,1773 L1714,1765.6 L1721.1,1758.2 L1728.2,1750.8 L1735.3,1743.3 L1742.5,1735.7 L1749.6,1728 L1756.7,1720.3 L1763.8,1712.5 L1770.9,1704.7 L1778,1696.8 L1785.2,1688.9 L1792.3,1680.9 L1799.4,1672.8 L1806.5,1664.7 L1813.6,1656.5 L1820.7,1648.3 L1827.8,1640 L1835,1631.6 L1842.1,1623.2 L1849.2,1614.7 L1856.3,1606.2 L1863.4,1597.6 L1870.5,1589 L1877.7,1580.3 L1884.8,1571.6 L1891.9,1562.8 L1899,1553.9 L1906.1,1545 L1913.2,1536.1 L1920.4,1527.1 L1927.5,1518 L1934.6,1508.9 L1941.7,1499.7 L1948.8,1490.5 L1955.9,1481.3 L1963.1,1471.9 L1970.2,1462.6 L1977.3,1453.2 L1984.4,1443.7 L1991.5,1434.2 L1998.7,1424.6 L2005.8,1415 L2012.9,1405.4 L2020,1395.7 L2027.1,1385.9 L2034.2,1376.1 L2041.3,1366.3 L2048.5,1356.4 L2055.6,1346.4 L2062.7,1336.4 L2069.8,1326.4" stroke="#ff0000" stroke-dasharray="31.5 45.2" stroke-linecap="round" stroke-dashoffset="0"/>
<path id="d_red2_dash" d="M1379.5,2409.3 L1386.6,2405.3 L1393.7,2401.2 L1400.8,2397.1 L1408,2392.8 L1415.1,2388.4 L1422.2,2384 L1429.3,2379.5 L1436.4,2374.8 L1443.5,2370.1 L1450.7,2365.3 L1457.8,2360.4 L1464.9,2355.4 L1472,2350.3 L1479.1,2345.1 L1486.2,2339.8 L1493.4,2334.5 L1500.5,2329 L1507.6,2323.5 L1514.7,2317.9 L1521.8,2312.2 L1529,2306.4 L1536.1,2300.6 L1543.2,2294.6 L1550.3,2288.6 L1557.4,2282.5 L1564.5,2276.3 L1571.7,2270 L1578.8,2263.7 L1585.9,2257.2 L1593,2250.7 L1600.1,2244.1 L1607.2,2237.5 L1614.3,2230.7 L1621.5,2223.9 L1628.6,2217 L1635.7,2210 L1642.8,2203 L1649.9,2195.8 L1657,2188.6 L1664.2,2181.4 L1671.3,2174 L1678.4,2166.6 L1685.5,2159.1 L1692.6,2151.6 L1699.8,2143.9 L1706.9,2136.2 L1714,2128.5 L1721.1,2120.6 L1728.2,2112.7 L1735.3,2104.8 L1742.5,2096.7 L1749.6,2088.6 L1756.7,2080.5 L1763.8,2072.2 L1770.9,2063.9 L1778,2055.6 L1785.2,2047.2 L1792.3,2038.7 L1799.4,2030.1 L1806.5,2021.5 L1813.6,2012.8 L1820.7,2004.1 L1827.8,1995.3 L1835,1986.5 L1842.1,1977.6 L1849.2,1968.6 L1856.3,1959.6 L1863.4,1950.5 L1870.5,1941.4 L1877.7,1932.2 L1884.8,1923 L1891.9,1913.7 L1899,1904.3 L1906.1,1894.9 L1913.2,1885.5 L1920.4,1876 L1927.5,1866.4 L1934.6,1856.8 L1941.7,1847.1 L1948.8,1837.4 L1955.9,1827.7 L1963.1,1817.9 L1970.2,1808 L1977.3,1798.1 L1984.4,1788.2 L1991.5,1778.2 L1998.7,1768.2 L2005.8,1758.1 L2012.9,1747.9 L2020,1737.8 L2027.1,1727.6 L2034.2,1717.3 L2041.3,1707 L2048.5,1696.7 L2055.6,1686.3 L2062.7,1675.9 L2069.8,1665.5 L2076.9,1655 L2084.1,1644.4 L2091.2,1633.9 L2098.3,1623.3 L2105.4,1612.6 L2112.5,1602 L2119.6,1591.2 L2126.8,1580.5 L2133.9,1569.7 L2141,1558.9 L2148.1,1548.1 L2155.2,1537.2 L2162.3,1526.3 L2169.4,1515.3 L2176.6,1504.4 L2183.7,1493.4 L2190.8,1482.4 L2197.9,1471.3 L2205,1460.2 L2212.2,1449.1 L2219.3,1438 L2226.4,1426.8 L2233.5,1415.6" stroke="#ff0000" stroke-dasharray="31.5 47.1" stroke-linecap="round" stroke-dashoffset="0"/>
<path id="d_blue_solid" d="M1379.5,2082.7 L1386.6,2090.7 L1393.7,2098.5 L1400.8,2106.3 L1408,2113.9 L1415.1,2121.5 L1422.2,2129 L1429.3,2136.3 L1436.4,2143.6 L1443.5,2150.8 L1450.7,2157.9 L1457.8,2164.9 L1464.9,2171.8 L1472,2178.6 L1479.1,2185.3 L1486.2,2191.9 L1493.4,2198.5 L1500.5,2204.9 L1507.6,2211.3 L1514.7,2217.5 L1521.8,2223.7 L1529,2229.8 L1536.1,2235.8 L1543.2,2241.7 L1550.3,2247.5 L1557.4,2253.2 L1564.5,2258.9 L1571.7,2264.4 L1578.8,2269.9 L1585.9,2275.2 L1593,2280.5 L1600.1,2285.7 L1607.2,2290.8 L1614.3,2295.8 L1621.5,2300.7 L1628.6,2305.5 L1635.7,2310.3 L1642.8,2314.9 L1649.9,2319.5 L1657,2323.9 L1664.2,2328.3 L1671.3,2332.6 L1678.4,2336.8 L1685.5,2340.9 L1692.6,2344.9 L1699.8,2348.9 L1706.9,2352.7 L1714,2356.4 L1721.1,2360.1 L1728.2,2363.7 L1735.3,2367.1 L1742.5,2370.5 L1749.6,2373.8 L1756.7,2377 L1763.8,2380.1 L1770.9,2383.2 L1778,2386.1 L1785.2,2388.9 L1792.3,2391.7 L1799.4,2394.4 L1806.5,2396.9 L1813.6,2399.4 L1820.7,2401.8 L1827.8,2404.1 L1835,2406.3 L1842.1,2408.5 L1849.2,2410.5 L1856.3,2412.5 L1863.4,2414.3 L1870.5,2416.1 L1877.7,2417.8 L1884.8,2419.4 L1891.9,2420.9 L1899,2422.3 L1906.1,2423.6 L1913.2,2424.9 L1920.4,2426 L1927.5,2427.1 L1934.6,2428.1 L1941.7,2429 L1948.8,2429.8 L1955.9,2430.5 L1963.1,2431.2 L1970.2,2431.7 L1977.3,2432.2 L1984.4,2432.6 L1991.5,2432.9 L1998.7,2433.2 L2005.8,2433.3 L2012.9,2433.4 L2020,2433.4 L2027.1,2433.3 L2034.2,2433.1 L2041.3,2432.9 L2048.5,2432.6 L2055.6,2432.2 L2062.7,2431.8 L2069.8,2431.2 L2076.9,2430.6 L2084.1,2429.9 L2091.2,2429.2 L2098.3,2428.4 L2105.4,2427.5 L2112.5,2426.6 L2119.6,2425.5 L2126.8,2424.5 L2133.9,2423.3 L2141,2422.1 L2148.1,2420.9 L2155.2,2419.6 L2162.3,2418.2 L2169.4,2416.8 L2176.6,2415.3 L2183.7,2413.8 L2190.8,2412.2 L2197.9,2410.6 L2205,2408.9 L2212.2,2407.2 L2219.3,2405.5 L2226.4,2403.7 L2233.5,2401.8" stroke="#0000ff"/>
<path id="d_blue_dash" d="M1379.5,2083.2 L1386.6,2074.7 L1393.7,2066.2 L1400.8,2057.6 L1408,2049.1 L1415.1,2040.4 L1422.2,2031.7 L1429.3,2023 L1436.4,2014.2 L1443.5,2005.3 L1450.7,1996.4 L1457.8,1987.4 L1464.9,1978.4 L1472,1969.2 L1479.1,1960 L1486.2,1950.7 L1493.4,1941.3 L1500.5,1931.9 L1507.6,1922.3 L1514.7,1912.6 L1521.8,1902.8 L1529,1893 L1536.1,1883 L1543.2,1872.9 L1550.3,1862.7 L1557.4,1852.3 L1564.5,1841.8 L1571.7,1831.2 L1578.8,1820.5 L1585.9,1809.6 L1593,1798.6 L1600.1,1787.5 L1607.2,1776.2 L1614.3,1764.7 L1621.5,1753.1 L1628.6,1741.4 L1635.7,1729.4 L1642.8,1717.3 L1649.9,1705 L1657,1692.6 L1664.2,1680 L1671.3,1667.2 L1678.4,1654.2 L1685.5,1641 L1692.6,1627.6 L1699.8,1614 L1706.9,1600.2 L1714,1586.3 L1721.1,1572.1 L1728.2,1557.7 L1735.3,1543 L1742.5,1528.2 L1749.6,1513.1 L1756.7,1497.8 L1763.8,1482.3 L1770.9,1466.5 L1778,1450.5 L1785.2,1434.2 L1792.3,1417.7 L1799.4,1401 L1806.5,1384 L1813.6,1366.7 L1820.7,1349.2 L1827.8,1331.4" stroke="#0000ff" stroke-dasharray="31.5 45.7" stroke-linecap="round" stroke-dashoffset="0"/>
</g>
<g font-size="77" font-weight="bold" fill="#000">
<text x="1379" y="3177.8" text-anchor="middle">0</text>
<text x="1521.3" y="3177.8" text-anchor="middle">5</text>
<text x="1663.7" y="3177.8" text-anchor="middle">10</text>
<text x="1806" y="3177.8" text-anchor="middle">15</text>
<text x="1948.3" y="3177.8" text-anchor="middle">20</text>
<text x="2090.7" y="3177.8" text-anchor="middle">25</text>
<text x="2233" y="3177.8" text-anchor="middle">30</text>
<text x="1320.5" y="3083.5" text-anchor="end">48</text>
<text x="1320.5" y="2635.8" text-anchor="end">56</text>
<text x="1320.5" y="2188.2" text-anchor="end">64</text>
<text x="1320.5" y="1740.5" text-anchor="end">72</text>
</g>
</g>
<g id="inset">
<rect x="1476.3" y="1106" width="450.9" height="277.3" fill="#fff"/>
<clipPath id="clip-i"><rect x="1476.3" y="1106" width="450.9" height="277.3"/></clipPath>
<g clip-path="url(#clip-i)" fill="none" stroke-width="6.5">
<path d="M1476.3,1179.8 L1927.2,1178.2" stroke="#000"/>
<path d="M1478,1260 L1852,1105" stroke="#f00"/>
<path d="M1478,1261 L1784,1386" stroke="#f00" stroke-dasharray="30.6 16.6" stroke-dashoffset="-7"/>
</g>
<path d="M1551.5,1106 v4 M1551.5,1383.3 v-4 M1626.6,1106 v4 M1626.6,1383.3 v-4 M1701.8,1106 v4 M1701.8,1383.3 v-4 M1776.9,1106 v4 M1776.9,1383.3 v-4 M1852,1106 v4 M1852,1383.3 v-4 M1476.3,1175.3 h4 M1927.2,1175.3 h-4 M1476.3,1244.7 h4 M1927.2,1244.7 h-4 M1476.3,1314 h4 M1927.2,1314 h-4" stroke="#000" stroke-width="3" fill="none"/>
<rect x="1476.3" y="1106" width="450.9" height="277.3" fill="none" stroke="#000" stroke-width="4.2"/>
<ellipse cx="1478.5" cy="1260" rx="3" ry="6" fill="#fff"/>
<g font-size="29" fill="#000">
<text x="1468.3" y="1114.5" text-anchor="end">53.5</text>
<text x="1468.3" y="1253.2" text-anchor="end">53.4</text>
<text x="1468.3" y="1391.8" text-anchor="end">53.3</text>
<text x="1476.3" y="1414.3" text-anchor="middle">0.0</text>
<text x="1626.6" y="1414.3" text-anchor="middle">0.1</text>
<text x="1776.9" y="1414.3" text-anchor="middle">0.2</text>
<text x="1927.2" y="1414.3" text-anchor="middle">0.3</text>
</g></g>
<g fill="#000">
<text transform="translate(455.2,134.8) scale(1.0211,1.0000)" font-size="92">ZnTe/CdSe</text>
<text transform="translate(1601.1,134.8) scale(1.0162,1.0000)" font-size="92">CdSeZnTe</text>
<text x="322.4" y="317" font-size="92">(a)</text>
<text x="1396.2" y="312" font-size="92">(b)</text>
<text x="335" y="1854" font-size="92">(c)</text>
<text x="1400.3" y="1816" font-size="92">(d)</text>
<text transform="translate(1071.8,1508.2) scale(1.0507,1.0079)" font-size="92">e</text>
<text transform="translate(1125.1,1474.9) scale(1.0140,1.2024)" font-size="70">-</text>
<text transform="translate(2133.9,1517) scale(1.0485,1.0059)" font-size="92">e</text>
<text transform="translate(2187,1483.5) scale(1.0196,1.1786)" font-size="70">-</text>
<text transform="translate(1038.6,2946) scale(0.9986,0.9895)" font-size="92">h</text>
<text transform="translate(1094.5,2907.2) scale(0.9932,0.9865)" font-size="64">+</text>
<text transform="translate(1412.6,2963.9) scale(0.9986,0.9865)" font-size="92">h</text>
<text transform="translate(1468.6,2926) scale(0.9901,0.9804)" font-size="64">+</text>
<text transform="translate(632,3327.4) scale(0.9969,1.0137)" font-size="92">B (T)</text>
<text transform="translate(1702,3327.4) scale(0.9969,1.0137)" font-size="92">B (T)</text>
<text transform="translate(87.6,1166.8) rotate(-90) scale(0.9858,1)" font-size="93.5">energy (meV)</text>
<text transform="translate(129.4,2681.3) rotate(-90) scale(0.9866,1)" font-size="93.5">energy (meV)</text>
</g>
<g id="legend" font-size="77" fill="#000" stroke-width="9" stroke-linecap="round">
<path d="M1791.5,2619.8 H1958.5" stroke="#000000" fill="none"/>
<text x="1978.5" y="2645.6" xml:space="preserve">m =  0</text>
<path d="M1791.5,2717.3 H1958.5" stroke="#ff0000" fill="none"/>
<text x="1978.5" y="2743.1" xml:space="preserve">m =  1</text>
<path d="M1791.5,2814.8 H1958.5" stroke="#ff0000" fill="none" stroke-dasharray="36 49.6"/>
<text x="1978.5" y="2840.6" xml:space="preserve">m = -1</text>
<path d="M1791.5,2912.3 H1958.5" stroke="#0000ff" fill="none"/>
<text x="1978.5" y="2938.1" xml:space="preserve">m =  2</text>
<path d="M1791.5,3009.8 H1958.5" stroke="#0000ff" fill="none" stroke-dasharray="36 49.6"/>
<text x="1978.5" y="3035.6" xml:space="preserve">m = -2</text>
</g>
</svg></body></html>
